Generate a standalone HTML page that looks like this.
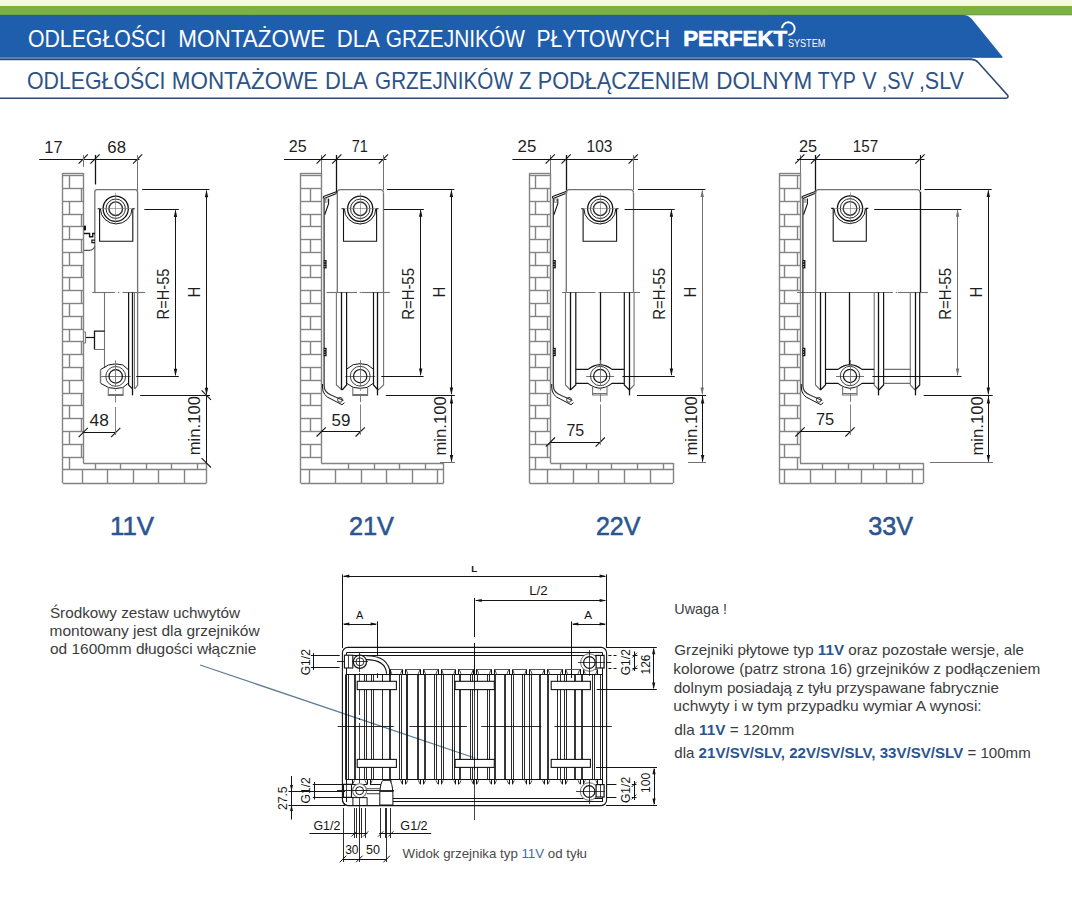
<!DOCTYPE html>
<html><head><meta charset="utf-8"><title>Odległości montażowe</title>
<style>
html,body{margin:0;padding:0;background:#ffffff;}
body{width:1072px;height:898px;overflow:hidden;position:relative;font-family:"Liberation Sans",sans-serif;}
svg{position:absolute;left:0;top:0;display:block;}
svg text{font-family:"Liberation Sans",sans-serif;}
</style></head><body>
<svg width="1072" height="898" viewBox="0 0 1072 898">
<rect x="0" y="0" width="1072" height="6" fill="#f5f9e0"/>
<rect x="0" y="6" width="1072" height="9" fill="#7db142"/>
<rect x="0" y="14.3" width="1072" height="1" fill="#6f9a5a"/>
<defs><linearGradient id="bt" x1="0" y1="0" x2="0" y2="1"><stop offset="0" stop-color="#2b6087"/><stop offset="1" stop-color="#1f5eac"/></linearGradient></defs>
<path d="M0,15 H963 Q968.5,15 972,19.3 L1003.1,57.6 H0 Z" fill="#1f5eac"/>
<rect x="0" y="15" width="964" height="2.6" fill="url(#bt)"/>
<rect x="0" y="56.6" width="1002" height="1.0" fill="#1d5799"/>
<rect x="0" y="57.6" width="972" height="1.2" fill="#6b95cc"/>
<path d="M-2,59.4 H971.5 Q975.5,59.4 978.5,62.7 L1007.6,95.1 Q1009,98.3 1005,98.3 H-2" fill="none" stroke="#2f4b70" stroke-width="1.6"/>
<text x="27.9" y="46.8" font-size="24.2" fill="#ffffff" textLength="138.36" lengthAdjust="spacingAndGlyphs">ODLEGŁOŚCI</text>
<text x="178.36" y="46.8" font-size="24.2" fill="#ffffff" textLength="146.79" lengthAdjust="spacingAndGlyphs">MONTAŻOWE</text>
<text x="336.79" y="46.8" font-size="24.2" fill="#ffffff" textLength="42.96" lengthAdjust="spacingAndGlyphs">DLA</text>
<text x="385.76" y="46.8" font-size="24.2" fill="#ffffff" textLength="139.1" lengthAdjust="spacingAndGlyphs">GRZEJNIKÓW</text>
<text x="536.47" y="46.8" font-size="24.2" fill="#ffffff" textLength="133.55" lengthAdjust="spacingAndGlyphs">PŁYTOWYCH</text>
<text x="26.9" y="88.8" font-size="24.2" fill="#2d5386" textLength="138.66" lengthAdjust="spacingAndGlyphs">ODLEGŁOŚCI</text>
<text x="171.76" y="88.8" font-size="24.2" fill="#2d5386" textLength="146.58" lengthAdjust="spacingAndGlyphs">MONTAŻOWE</text>
<text x="325.1" y="88.8" font-size="24.2" fill="#2d5386" textLength="42.65" lengthAdjust="spacingAndGlyphs">DLA</text>
<text x="375.07" y="88.8" font-size="24.2" fill="#2d5386" textLength="137.89" lengthAdjust="spacingAndGlyphs">GRZEJNIKÓW</text>
<text x="518.97" y="88.8" font-size="24.2" fill="#2d5386" textLength="12.46" lengthAdjust="spacingAndGlyphs">Z</text>
<text x="537.72" y="88.8" font-size="24.2" fill="#2d5386" textLength="171.37" lengthAdjust="spacingAndGlyphs">PODŁĄCZENIEM</text>
<text x="716.16" y="88.8" font-size="24.2" fill="#2d5386" textLength="96.09" lengthAdjust="spacingAndGlyphs">DOLNYM</text>
<text x="817.67" y="88.8" font-size="24.2" fill="#2d5386" textLength="38.15" lengthAdjust="spacingAndGlyphs">TYP</text>
<text x="862.21" y="88.8" font-size="24.2" fill="#2d5386" textLength="14.37" lengthAdjust="spacingAndGlyphs">V</text>
<text x="881.72" y="88.8" font-size="24.2" fill="#2d5386" textLength="32.15" lengthAdjust="spacingAndGlyphs">,SV</text>
<text x="918.89" y="88.8" font-size="24.2" fill="#2d5386" textLength="44.99" lengthAdjust="spacingAndGlyphs">,SLV</text>
<text x="683.13" y="45.7" font-size="22.2" fill="#ffffff" font-weight="bold" textLength="103.99" lengthAdjust="spacingAndGlyphs" stroke="#ffffff" stroke-width="0.7">PERFEKT</text>
<text x="787.89" y="46.7" font-size="11.4" fill="#ffffff" textLength="37.46" lengthAdjust="spacingAndGlyphs">SYSTEM</text>
<path d="M782.1,28.3 A6.3,6.3 0 1 1 788.3,34.9" fill="none" stroke="#ffffff" stroke-width="1.9"/>
<line x1="83.5" y1="173" x2="83.5" y2="463" stroke="#848484" stroke-width="1.4"/>
<line x1="62.7" y1="173.5" x2="83.2" y2="173.5" stroke="#848484" stroke-width="1.4"/>
<line x1="62.5" y1="173" x2="62.5" y2="483" stroke="#848484" stroke-width="1.4"/>
<line x1="62.7" y1="483.5" x2="206.4" y2="483.5" stroke="#848484" stroke-width="1.4"/>
<line x1="206.5" y1="463" x2="206.5" y2="483" stroke="#848484" stroke-width="1.4"/>
<line x1="83.2" y1="463.5" x2="206.4" y2="463.5" stroke="#848484" stroke-width="1.4"/>
<line x1="62.7" y1="175.5" x2="83.2" y2="175.5" stroke="#848484" stroke-width="1.4"/>
<line x1="62.7" y1="188.5" x2="83.2" y2="188.5" stroke="#848484" stroke-width="1.4"/>
<line x1="69.5" y1="175.7" x2="69.5" y2="188.49" stroke="#848484" stroke-width="1.4"/>
<line x1="62.7" y1="201.5" x2="83.2" y2="201.5" stroke="#848484" stroke-width="1.4"/>
<line x1="81.5" y1="188.49" x2="81.5" y2="201.27" stroke="#848484" stroke-width="1.4"/>
<line x1="62.7" y1="214.5" x2="83.2" y2="214.5" stroke="#848484" stroke-width="1.4"/>
<line x1="69.5" y1="201.27" x2="69.5" y2="214.06" stroke="#848484" stroke-width="1.4"/>
<line x1="62.7" y1="226.5" x2="83.2" y2="226.5" stroke="#848484" stroke-width="1.4"/>
<line x1="81.5" y1="214.06" x2="81.5" y2="226.85" stroke="#848484" stroke-width="1.4"/>
<line x1="62.7" y1="239.5" x2="83.2" y2="239.5" stroke="#848484" stroke-width="1.4"/>
<line x1="69.5" y1="226.85" x2="69.5" y2="239.63" stroke="#848484" stroke-width="1.4"/>
<line x1="62.7" y1="252.5" x2="83.2" y2="252.5" stroke="#848484" stroke-width="1.4"/>
<line x1="81.5" y1="239.63" x2="81.5" y2="252.42" stroke="#848484" stroke-width="1.4"/>
<line x1="62.7" y1="265.5" x2="83.2" y2="265.5" stroke="#848484" stroke-width="1.4"/>
<line x1="69.5" y1="252.42" x2="69.5" y2="265.21" stroke="#848484" stroke-width="1.4"/>
<line x1="62.7" y1="277.5" x2="83.2" y2="277.5" stroke="#848484" stroke-width="1.4"/>
<line x1="81.5" y1="265.21" x2="81.5" y2="278" stroke="#848484" stroke-width="1.4"/>
<line x1="62.7" y1="290.5" x2="83.2" y2="290.5" stroke="#848484" stroke-width="1.4"/>
<line x1="69.5" y1="278" x2="69.5" y2="290.78" stroke="#848484" stroke-width="1.4"/>
<line x1="62.7" y1="303.5" x2="83.2" y2="303.5" stroke="#848484" stroke-width="1.4"/>
<line x1="81.5" y1="290.78" x2="81.5" y2="303.57" stroke="#848484" stroke-width="1.4"/>
<line x1="62.7" y1="316.5" x2="83.2" y2="316.5" stroke="#848484" stroke-width="1.4"/>
<line x1="69.5" y1="303.57" x2="69.5" y2="316.36" stroke="#848484" stroke-width="1.4"/>
<line x1="62.7" y1="329.5" x2="83.2" y2="329.5" stroke="#848484" stroke-width="1.4"/>
<line x1="81.5" y1="316.36" x2="81.5" y2="329.14" stroke="#848484" stroke-width="1.4"/>
<line x1="62.7" y1="341.5" x2="83.2" y2="341.5" stroke="#848484" stroke-width="1.4"/>
<line x1="69.5" y1="329.14" x2="69.5" y2="341.93" stroke="#848484" stroke-width="1.4"/>
<line x1="62.7" y1="354.5" x2="83.2" y2="354.5" stroke="#848484" stroke-width="1.4"/>
<line x1="81.5" y1="341.93" x2="81.5" y2="354.72" stroke="#848484" stroke-width="1.4"/>
<line x1="62.7" y1="367.5" x2="83.2" y2="367.5" stroke="#848484" stroke-width="1.4"/>
<line x1="69.5" y1="354.72" x2="69.5" y2="367.5" stroke="#848484" stroke-width="1.4"/>
<line x1="62.7" y1="380.5" x2="83.2" y2="380.5" stroke="#848484" stroke-width="1.4"/>
<line x1="81.5" y1="367.5" x2="81.5" y2="380.29" stroke="#848484" stroke-width="1.4"/>
<line x1="62.7" y1="393.5" x2="83.2" y2="393.5" stroke="#848484" stroke-width="1.4"/>
<line x1="69.5" y1="380.29" x2="69.5" y2="393.08" stroke="#848484" stroke-width="1.4"/>
<line x1="62.7" y1="405.5" x2="83.2" y2="405.5" stroke="#848484" stroke-width="1.4"/>
<line x1="81.5" y1="393.08" x2="81.5" y2="405.87" stroke="#848484" stroke-width="1.4"/>
<line x1="62.7" y1="418.5" x2="83.2" y2="418.5" stroke="#848484" stroke-width="1.4"/>
<line x1="69.5" y1="405.87" x2="69.5" y2="418.65" stroke="#848484" stroke-width="1.4"/>
<line x1="62.7" y1="431.5" x2="83.2" y2="431.5" stroke="#848484" stroke-width="1.4"/>
<line x1="81.5" y1="418.65" x2="81.5" y2="431.44" stroke="#848484" stroke-width="1.4"/>
<line x1="62.7" y1="444.5" x2="83.2" y2="444.5" stroke="#848484" stroke-width="1.4"/>
<line x1="69.5" y1="431.44" x2="69.5" y2="444.23" stroke="#848484" stroke-width="1.4"/>
<line x1="62.7" y1="457.5" x2="83.2" y2="457.5" stroke="#848484" stroke-width="1.4"/>
<line x1="81.5" y1="444.23" x2="81.5" y2="457.01" stroke="#848484" stroke-width="1.4"/>
<line x1="69.5" y1="457.01" x2="69.5" y2="469.8" stroke="#848484" stroke-width="1.4"/>
<line x1="62.7" y1="469.5" x2="206.4" y2="469.5" stroke="#848484" stroke-width="1.4"/>
<line x1="95.5" y1="463" x2="95.5" y2="469.8" stroke="#848484" stroke-width="1.4"/>
<line x1="120.5" y1="463" x2="120.5" y2="469.8" stroke="#848484" stroke-width="1.4"/>
<line x1="146.5" y1="463" x2="146.5" y2="469.8" stroke="#848484" stroke-width="1.4"/>
<line x1="171.5" y1="463" x2="171.5" y2="469.8" stroke="#848484" stroke-width="1.4"/>
<line x1="197.5" y1="463" x2="197.5" y2="469.8" stroke="#848484" stroke-width="1.4"/>
<line x1="82.5" y1="469.8" x2="82.5" y2="483" stroke="#848484" stroke-width="1.4"/>
<line x1="107.5" y1="469.8" x2="107.5" y2="483" stroke="#848484" stroke-width="1.4"/>
<line x1="133.5" y1="469.8" x2="133.5" y2="483" stroke="#848484" stroke-width="1.4"/>
<line x1="158.5" y1="469.8" x2="158.5" y2="483" stroke="#848484" stroke-width="1.4"/>
<line x1="184.5" y1="469.8" x2="184.5" y2="483" stroke="#848484" stroke-width="1.4"/>
<line x1="39.2" y1="159.5" x2="139.5" y2="159.5" stroke="#141414" stroke-width="1"/>
<line x1="78.6" y1="163.6" x2="87.8" y2="154.4" stroke="#141414" stroke-width="1.1"/>
<line x1="90.4" y1="163.6" x2="99.6" y2="154.4" stroke="#141414" stroke-width="1.1"/>
<line x1="133" y1="163.6" x2="142.2" y2="154.4" stroke="#141414" stroke-width="1.1"/>
<line x1="83.5" y1="155" x2="83.5" y2="167" stroke="#727272" stroke-width="1"/>
<line x1="95.5" y1="155" x2="95.5" y2="184.5" stroke="#141414" stroke-width="1.3"/>
<line x1="137.5" y1="155" x2="137.5" y2="191" stroke="#727272" stroke-width="1"/>
<text x="44.36" y="152.8" font-size="16" fill="#1e1e1e" textLength="18.16" lengthAdjust="spacingAndGlyphs">17</text>
<text x="107.37" y="152.8" font-size="16" fill="#1e1e1e" textLength="18.56" lengthAdjust="spacingAndGlyphs">68</text>
<path d="M94.8,292.4 V192 Q94.8,189.7 97,189.7 H135.2 Q137.6,189.7 137.6,192.5 V385.3 L134.5,389" stroke="#727272" stroke-width="1.3" fill="none"/>
<line x1="92.3" y1="292.5" x2="114.7" y2="292.5" stroke="#727272" stroke-width="1.1"/>
<line x1="117.8" y1="292.5" x2="119.2" y2="292.5" stroke="#727272" stroke-width="1.1"/>
<line x1="122.4" y1="292.5" x2="145.1" y2="292.5" stroke="#727272" stroke-width="1.1"/>
<line x1="104.5" y1="292.4" x2="104.5" y2="368" stroke="#727272" stroke-width="1.1"/>
<line x1="134.5" y1="292.4" x2="134.5" y2="389" stroke="#727272" stroke-width="1"/>
<path d="M128.6,292.4 V385 L132.2,388.7" stroke="#141414" stroke-width="1.2" fill="none"/>
<line x1="132.5" y1="292.4" x2="132.5" y2="395.4" stroke="#141414" stroke-width="1.3"/>
<path d="M97.6,208.7 H99.6 V241.3 H132.8 V208.7 H134.8" stroke="#141414" stroke-width="1.1" fill="none"/>
<path d="M100.4,208.7 A15.8,15.2 0 0 0 132,208.7" stroke="#141414" stroke-width="1" fill="none"/>
<circle cx="115.7" cy="208.7" r="12.6" stroke="#141414" stroke-width="1.3" fill="none"/>
<circle cx="115.7" cy="208.7" r="9.7" stroke="#141414" stroke-width="0.9" fill="none"/>
<circle cx="115.7" cy="208.7" r="6.8" stroke="#333" stroke-width="1.4" fill="none"/>
<line x1="115.5" y1="192.7" x2="115.5" y2="224.7" stroke="#727272" stroke-width="0.6"/>
<line x1="99.7" y1="208.5" x2="131.7" y2="208.5" stroke="#727272" stroke-width="0.6"/>
<path d="M100.8,369.4 L108.7,364.9 Q115.7,362.9 122.7,364.9 L128,369.4 M100.8,383.4 L108.7,387.6 Q115.7,389.4 122.7,387.6 L128,383.4" stroke="#141414" stroke-width="1" fill="none"/>
<circle cx="115.7" cy="376.4" r="9.9" stroke="#141414" stroke-width="0.8" fill="none"/>
<circle cx="115.7" cy="376.4" r="6.7" stroke="#141414" stroke-width="1.2" fill="none"/>
<path d="M108.3,386.9 V395.4 H123.1 V386.9" stroke="#727272" stroke-width="1.1" fill="none"/>
<line x1="108.3" y1="394.5" x2="123.1" y2="394.5" stroke="#727272" stroke-width="1"/>
<line x1="100.7" y1="376.5" x2="130.7" y2="376.5" stroke="#141414" stroke-width="0.6"/>
<line x1="115.5" y1="360.4" x2="115.5" y2="402.4" stroke="#727272" stroke-width="0.9" stroke-dasharray="26,3,1.5,3"/>
<line x1="100.5" y1="369.4" x2="100.5" y2="383.4" stroke="#727272" stroke-width="1.4"/>
<rect x="83.8" y="225.4" width="2.2" height="5.2" rx="0.8" fill="#111"/>
<path d="M84,233.5 H89.6 V236.8 H92.7 V233.5 H95" stroke="#141414" stroke-width="1.4" fill="none"/>
<path d="M95,240.2 H91.9 V242.6 H95" stroke="#141414" stroke-width="1.2" fill="none"/>
<path d="M94.8,246.4 Q93.5,250 89.5,250.4 H84" stroke="#555" stroke-width="1.3" fill="none"/>
<line x1="85.5" y1="337.5" x2="94.5" y2="337.5" stroke="#141414" stroke-width="1.2"/>
<path d="M94.5,349.5 V331.2 H104.6" stroke="#141414" stroke-width="1.3" fill="none"/>
<line x1="94.5" y1="349.5" x2="104.4" y2="349.5" stroke="#727272" stroke-width="1"/>
<path d="M83.6,332 H85.6 V343 H83.6" stroke="#727272" stroke-width="1" fill="none"/>
<line x1="142.2" y1="189.5" x2="209.5" y2="189.5" stroke="#141414" stroke-width="1"/>
<line x1="140.2" y1="395.5" x2="210" y2="395.5" stroke="#141414" stroke-width="1.1"/>
<line x1="206.5" y1="190.7" x2="206.5" y2="394.2" stroke="#141414" stroke-width="1"/>
<polygon points="206.5,189.7 204.8,197.2 208.2,197.2" fill="#141414"/>
<polygon points="206.5,395.2 204.8,387.7 208.2,387.7" fill="#141414"/>
<line x1="144.3" y1="209.5" x2="178.8" y2="209.5" stroke="#141414" stroke-width="1"/>
<line x1="136.3" y1="376.5" x2="178.8" y2="376.5" stroke="#141414" stroke-width="1"/>
<line x1="175.5" y1="210.5" x2="175.5" y2="375.2" stroke="#141414" stroke-width="1"/>
<polygon points="175.5,209.5 173.8,217 177.2,217" fill="#141414"/>
<polygon points="175.5,376.2 173.8,368.7 177.2,368.7" fill="#141414"/>
<text transform="translate(169,319.4) rotate(-90)" x="0" y="0" font-size="16" fill="#1e1e1e" textLength="50.79" lengthAdjust="spacingAndGlyphs">R=H-55</text>
<text transform="translate(199.7,297.53) rotate(-90)" x="0" y="0" font-size="16" fill="#1e1e1e" textLength="10.85" lengthAdjust="spacingAndGlyphs">H</text>
<line x1="206.5" y1="395.2" x2="206.5" y2="462.8" stroke="#141414" stroke-width="1"/>
<line x1="201.6" y1="390.4" x2="211" y2="399.8" stroke="#141414" stroke-width="1.1"/>
<line x1="201.6" y1="458.1" x2="211" y2="467.5" stroke="#141414" stroke-width="1.1"/>
<text transform="translate(200.3,455.3) rotate(-90)" x="0" y="0" font-size="16" fill="#1e1e1e" textLength="59.24" lengthAdjust="spacingAndGlyphs">min.100</text>
<line x1="83.2" y1="432.5" x2="115.7" y2="432.5" stroke="#141414" stroke-width="1"/>
<line x1="78.6" y1="437.1" x2="87.8" y2="427.9" stroke="#141414" stroke-width="1.1"/>
<line x1="111.1" y1="437.1" x2="120.3" y2="427.9" stroke="#141414" stroke-width="1.1"/>
<text x="89.52" y="425.8" font-size="16" fill="#1e1e1e" textLength="19.23" lengthAdjust="spacingAndGlyphs">48</text>
<line x1="115.5" y1="407" x2="115.5" y2="435" stroke="#727272" stroke-width="0.9"/>
<line x1="321.5" y1="173" x2="321.5" y2="463" stroke="#848484" stroke-width="1.4"/>
<line x1="300.6" y1="173.5" x2="321.2" y2="173.5" stroke="#848484" stroke-width="1.4"/>
<line x1="300.5" y1="173" x2="300.5" y2="483" stroke="#848484" stroke-width="1.4"/>
<line x1="300.6" y1="483.5" x2="443.7" y2="483.5" stroke="#848484" stroke-width="1.4"/>
<line x1="443.5" y1="463" x2="443.5" y2="483" stroke="#848484" stroke-width="1.4"/>
<line x1="321.2" y1="463.5" x2="443.7" y2="463.5" stroke="#848484" stroke-width="1.4"/>
<line x1="300.6" y1="175.5" x2="321.2" y2="175.5" stroke="#848484" stroke-width="1.4"/>
<line x1="300.6" y1="188.5" x2="321.2" y2="188.5" stroke="#848484" stroke-width="1.4"/>
<line x1="300.6" y1="201.5" x2="321.2" y2="201.5" stroke="#848484" stroke-width="1.4"/>
<line x1="310.5" y1="188.49" x2="310.5" y2="201.27" stroke="#848484" stroke-width="1.4"/>
<line x1="300.6" y1="214.5" x2="321.2" y2="214.5" stroke="#848484" stroke-width="1.4"/>
<line x1="300.6" y1="226.5" x2="321.2" y2="226.5" stroke="#848484" stroke-width="1.4"/>
<line x1="310.5" y1="214.06" x2="310.5" y2="226.85" stroke="#848484" stroke-width="1.4"/>
<line x1="300.6" y1="239.5" x2="321.2" y2="239.5" stroke="#848484" stroke-width="1.4"/>
<line x1="300.6" y1="252.5" x2="321.2" y2="252.5" stroke="#848484" stroke-width="1.4"/>
<line x1="310.5" y1="239.63" x2="310.5" y2="252.42" stroke="#848484" stroke-width="1.4"/>
<line x1="300.6" y1="265.5" x2="321.2" y2="265.5" stroke="#848484" stroke-width="1.4"/>
<line x1="300.6" y1="277.5" x2="321.2" y2="277.5" stroke="#848484" stroke-width="1.4"/>
<line x1="310.5" y1="265.21" x2="310.5" y2="278" stroke="#848484" stroke-width="1.4"/>
<line x1="300.6" y1="290.5" x2="321.2" y2="290.5" stroke="#848484" stroke-width="1.4"/>
<line x1="300.6" y1="303.5" x2="321.2" y2="303.5" stroke="#848484" stroke-width="1.4"/>
<line x1="310.5" y1="290.78" x2="310.5" y2="303.57" stroke="#848484" stroke-width="1.4"/>
<line x1="300.6" y1="316.5" x2="321.2" y2="316.5" stroke="#848484" stroke-width="1.4"/>
<line x1="300.6" y1="329.5" x2="321.2" y2="329.5" stroke="#848484" stroke-width="1.4"/>
<line x1="310.5" y1="316.36" x2="310.5" y2="329.14" stroke="#848484" stroke-width="1.4"/>
<line x1="300.6" y1="341.5" x2="321.2" y2="341.5" stroke="#848484" stroke-width="1.4"/>
<line x1="300.6" y1="354.5" x2="321.2" y2="354.5" stroke="#848484" stroke-width="1.4"/>
<line x1="310.5" y1="341.93" x2="310.5" y2="354.72" stroke="#848484" stroke-width="1.4"/>
<line x1="300.6" y1="367.5" x2="321.2" y2="367.5" stroke="#848484" stroke-width="1.4"/>
<line x1="300.6" y1="380.5" x2="321.2" y2="380.5" stroke="#848484" stroke-width="1.4"/>
<line x1="310.5" y1="367.5" x2="310.5" y2="380.29" stroke="#848484" stroke-width="1.4"/>
<line x1="300.6" y1="393.5" x2="321.2" y2="393.5" stroke="#848484" stroke-width="1.4"/>
<line x1="300.6" y1="405.5" x2="321.2" y2="405.5" stroke="#848484" stroke-width="1.4"/>
<line x1="310.5" y1="393.08" x2="310.5" y2="405.87" stroke="#848484" stroke-width="1.4"/>
<line x1="300.6" y1="418.5" x2="321.2" y2="418.5" stroke="#848484" stroke-width="1.4"/>
<line x1="300.6" y1="431.5" x2="321.2" y2="431.5" stroke="#848484" stroke-width="1.4"/>
<line x1="310.5" y1="418.65" x2="310.5" y2="431.44" stroke="#848484" stroke-width="1.4"/>
<line x1="300.6" y1="444.5" x2="321.2" y2="444.5" stroke="#848484" stroke-width="1.4"/>
<line x1="300.6" y1="457.5" x2="321.2" y2="457.5" stroke="#848484" stroke-width="1.4"/>
<line x1="310.5" y1="444.23" x2="310.5" y2="457.01" stroke="#848484" stroke-width="1.4"/>
<line x1="300.6" y1="469.5" x2="443.7" y2="469.5" stroke="#848484" stroke-width="1.4"/>
<line x1="348.5" y1="463" x2="348.5" y2="469.8" stroke="#848484" stroke-width="1.4"/>
<line x1="374.5" y1="463" x2="374.5" y2="469.8" stroke="#848484" stroke-width="1.4"/>
<line x1="399.5" y1="463" x2="399.5" y2="469.8" stroke="#848484" stroke-width="1.4"/>
<line x1="425.5" y1="463" x2="425.5" y2="469.8" stroke="#848484" stroke-width="1.4"/>
<line x1="309.5" y1="469.8" x2="309.5" y2="483" stroke="#848484" stroke-width="1.4"/>
<line x1="335.5" y1="469.8" x2="335.5" y2="483" stroke="#848484" stroke-width="1.4"/>
<line x1="361.5" y1="469.8" x2="361.5" y2="483" stroke="#848484" stroke-width="1.4"/>
<line x1="386.5" y1="469.8" x2="386.5" y2="483" stroke="#848484" stroke-width="1.4"/>
<line x1="412.5" y1="469.8" x2="412.5" y2="483" stroke="#848484" stroke-width="1.4"/>
<line x1="437.5" y1="469.8" x2="437.5" y2="483" stroke="#848484" stroke-width="1.4"/>
<line x1="321.5" y1="155" x2="321.5" y2="173" stroke="#727272" stroke-width="1"/>
<line x1="284" y1="159.5" x2="386.5" y2="159.5" stroke="#141414" stroke-width="1"/>
<line x1="316.6" y1="163.6" x2="325.8" y2="154.4" stroke="#141414" stroke-width="1.1"/>
<line x1="332.2" y1="163.6" x2="341.4" y2="154.4" stroke="#141414" stroke-width="1.1"/>
<line x1="378.8" y1="163.6" x2="388" y2="154.4" stroke="#141414" stroke-width="1.1"/>
<line x1="336.5" y1="155" x2="336.5" y2="193" stroke="#141414" stroke-width="1.3"/>
<line x1="383.5" y1="155" x2="383.5" y2="190" stroke="#727272" stroke-width="1"/>
<text x="288.8" y="152.4" font-size="16" fill="#1e1e1e" textLength="17.87" lengthAdjust="spacingAndGlyphs">25</text>
<text x="351.76" y="152.4" font-size="16" fill="#1e1e1e" textLength="16.14" lengthAdjust="spacingAndGlyphs">71</text>
<path d="M337.3,292.2 V192.6 Q337.3,189.6 340.3,189.6 H380.4 Q383.4,189.6 383.4,192.6" stroke="#727272" stroke-width="1.3" fill="none"/>
<line x1="383.5" y1="192.6" x2="383.5" y2="292.2" stroke="#727272" stroke-width="1.3"/>
<line x1="326.5" y1="292.5" x2="357" y2="292.5" stroke="#727272" stroke-width="1.1"/>
<line x1="359.8" y1="292.5" x2="361.3" y2="292.5" stroke="#727272" stroke-width="1.1"/>
<line x1="361.5" y1="292.5" x2="389.8" y2="292.5" stroke="#727272" stroke-width="1.1"/>
<path d="M323.4,196.4 L337,191.6 M324,198.4 L336.5,193.4 M323.4,196.3 V198.6" stroke="#141414" stroke-width="1.1" fill="none"/>
<path d="M328.6,198.4 V203.6 L324.7,214.7" stroke="#141414" stroke-width="1.1" fill="none"/>
<rect x="325.3" y="199" width="1.8" height="3.2" stroke="#727272" stroke-width="0.7" fill="none"/>
<path d="M324.1,198.4 V385.7 Q324.1,392.5 332.1,395.5 L343.5,400.5" stroke="#3a3a3a" stroke-width="1.3" fill="none"/>
<path d="M322.5,384 V387 Q322.5,395.8 331.1,399 L342,404.7 L344.5,402.7" stroke="#141414" stroke-width="1" fill="none"/>
<rect x="323.7" y="260" width="2.9" height="8.4" fill="#111"/>
<rect x="324.4" y="261.3" width="1.0" height="0.9" fill="#fff"/>
<rect x="324.4" y="263.8" width="1.0" height="0.9" fill="#fff"/>
<rect x="324.4" y="266.3" width="1.0" height="0.9" fill="#fff"/>
<rect x="323.7" y="347.8" width="2.9" height="8.4" fill="#111"/>
<rect x="324.4" y="349.1" width="1.0" height="0.9" fill="#fff"/>
<rect x="324.4" y="351.6" width="1.0" height="0.9" fill="#fff"/>
<rect x="324.4" y="354.1" width="1.0" height="0.9" fill="#fff"/>
<circle cx="340" cy="399.8" r="2.4" stroke="#141414" stroke-width="0.8" fill="none"/>
<path d="M336.4,292.2 V385 L342.2,390" stroke="#727272" stroke-width="1.1" fill="none"/>
<path d="M346.6,292.2 V385 L342.2,390" stroke="#141414" stroke-width="1.2" fill="none"/>
<line x1="341.5" y1="292.2" x2="341.5" y2="390" stroke="#141414" stroke-width="1.3"/>
<path d="M383.6,292.2 V385 L378,390" stroke="#727272" stroke-width="1.1" fill="none"/>
<path d="M373.5,292.2 V385 L378,390" stroke="#141414" stroke-width="1.2" fill="none"/>
<line x1="377.5" y1="292.2" x2="377.5" y2="395.4" stroke="#141414" stroke-width="1.3"/>
<path d="M341.5,208.8 H343.5 V241.2 H376.6 V208.8 H378.6" stroke="#141414" stroke-width="1.1" fill="none"/>
<path d="M344.3,208.8 A15.75,15.2 0 0 0 375.8,208.8" stroke="#141414" stroke-width="1" fill="none"/>
<circle cx="360.2" cy="208.8" r="12.6" stroke="#141414" stroke-width="1.3" fill="none"/>
<circle cx="360.2" cy="208.8" r="9.7" stroke="#141414" stroke-width="0.9" fill="none"/>
<circle cx="360.2" cy="208.8" r="6.8" stroke="#333" stroke-width="1.4" fill="none"/>
<line x1="360.5" y1="192.8" x2="360.5" y2="224.8" stroke="#727272" stroke-width="0.6"/>
<line x1="344.2" y1="208.5" x2="376.2" y2="208.5" stroke="#727272" stroke-width="0.6"/>
<path d="M346.6,369.2 L353.2,364.7 Q360.2,362.7 367.2,364.7 L373.5,369.2 M346.6,383.2 L353.2,387.4 Q360.2,389.2 367.2,387.4 L373.5,383.2" stroke="#141414" stroke-width="1" fill="none"/>
<circle cx="360.2" cy="376.2" r="9.9" stroke="#141414" stroke-width="0.8" fill="none"/>
<circle cx="360.2" cy="376.2" r="6.7" stroke="#141414" stroke-width="1.2" fill="none"/>
<path d="M352.8,386.7 V395.4 H367.6 V386.7" stroke="#727272" stroke-width="1.1" fill="none"/>
<line x1="352.8" y1="394.5" x2="367.6" y2="394.5" stroke="#727272" stroke-width="1"/>
<line x1="345.2" y1="376.5" x2="375.2" y2="376.5" stroke="#141414" stroke-width="0.6"/>
<line x1="360.5" y1="360.2" x2="360.5" y2="402.2" stroke="#727272" stroke-width="0.9" stroke-dasharray="26,3,1.5,3"/>
<line x1="387" y1="189.5" x2="454.3" y2="189.5" stroke="#141414" stroke-width="1"/>
<line x1="385.8" y1="395.5" x2="454.8" y2="395.5" stroke="#141414" stroke-width="1"/>
<line x1="451.5" y1="190.6" x2="451.5" y2="394.1" stroke="#141414" stroke-width="1"/>
<polygon points="451.4,189.6 449.7,197.1 453.1,197.1" fill="#141414"/>
<polygon points="451.4,395.1 449.7,387.6 453.1,387.6" fill="#141414"/>
<line x1="384" y1="209.5" x2="423.9" y2="209.5" stroke="#141414" stroke-width="1"/>
<line x1="381.3" y1="376.5" x2="423.6" y2="376.5" stroke="#141414" stroke-width="1"/>
<line x1="420.5" y1="210.3" x2="420.5" y2="375" stroke="#141414" stroke-width="1"/>
<polygon points="420.7,209.3 419,216.8 422.4,216.8" fill="#141414"/>
<polygon points="420.7,376 419,368.5 422.4,368.5" fill="#141414"/>
<text transform="translate(414.3,319.82) rotate(-90)" x="0" y="0" font-size="16" fill="#1e1e1e" textLength="51.73" lengthAdjust="spacingAndGlyphs">R=H-55</text>
<text transform="translate(444.9,297.53) rotate(-90)" x="0" y="0" font-size="16" fill="#1e1e1e" textLength="10.85" lengthAdjust="spacingAndGlyphs">H</text>
<line x1="451.5" y1="396" x2="451.5" y2="461.5" stroke="#141414" stroke-width="1"/>
<polygon points="451.5,396 449.8,403.5 453.2,403.5" fill="#141414"/>
<polygon points="451.5,462.5 449.8,455 453.2,455" fill="#141414"/>
<line x1="440" y1="462.5" x2="455" y2="462.5" stroke="#727272" stroke-width="1"/>
<text transform="translate(445.9,455.5) rotate(-90)" x="0" y="0" font-size="16" fill="#1e1e1e" textLength="59.14" lengthAdjust="spacingAndGlyphs">min.100</text>
<line x1="321.2" y1="431.5" x2="360.2" y2="431.5" stroke="#141414" stroke-width="1"/>
<line x1="316.6" y1="436.5" x2="325.8" y2="427.3" stroke="#141414" stroke-width="1.1"/>
<line x1="355.6" y1="436.5" x2="364.8" y2="427.3" stroke="#141414" stroke-width="1.1"/>
<text x="331.62" y="425.9" font-size="16" fill="#1e1e1e" textLength="18.88" lengthAdjust="spacingAndGlyphs">59</text>
<line x1="360.5" y1="399" x2="360.5" y2="434.9" stroke="#727272" stroke-width="0.9" stroke-dasharray="1.5,4,40,0"/>
<line x1="550.5" y1="173" x2="550.5" y2="463" stroke="#848484" stroke-width="1.4"/>
<line x1="529.4" y1="173.5" x2="550.4" y2="173.5" stroke="#848484" stroke-width="1.4"/>
<line x1="529.5" y1="173" x2="529.5" y2="483" stroke="#848484" stroke-width="1.4"/>
<line x1="529.4" y1="483.5" x2="673.2" y2="483.5" stroke="#848484" stroke-width="1.4"/>
<line x1="673.5" y1="463" x2="673.5" y2="483" stroke="#848484" stroke-width="1.4"/>
<line x1="550.4" y1="463.5" x2="673.2" y2="463.5" stroke="#848484" stroke-width="1.4"/>
<line x1="529.4" y1="175.5" x2="550.4" y2="175.5" stroke="#848484" stroke-width="1.4"/>
<line x1="529.4" y1="188.5" x2="550.4" y2="188.5" stroke="#848484" stroke-width="1.4"/>
<line x1="535.5" y1="175.7" x2="535.5" y2="188.49" stroke="#848484" stroke-width="1.4"/>
<line x1="529.4" y1="201.5" x2="550.4" y2="201.5" stroke="#848484" stroke-width="1.4"/>
<line x1="547.5" y1="188.49" x2="547.5" y2="201.27" stroke="#848484" stroke-width="1.4"/>
<line x1="529.4" y1="214.5" x2="550.4" y2="214.5" stroke="#848484" stroke-width="1.4"/>
<line x1="535.5" y1="201.27" x2="535.5" y2="214.06" stroke="#848484" stroke-width="1.4"/>
<line x1="529.4" y1="226.5" x2="550.4" y2="226.5" stroke="#848484" stroke-width="1.4"/>
<line x1="547.5" y1="214.06" x2="547.5" y2="226.85" stroke="#848484" stroke-width="1.4"/>
<line x1="529.4" y1="239.5" x2="550.4" y2="239.5" stroke="#848484" stroke-width="1.4"/>
<line x1="535.5" y1="226.85" x2="535.5" y2="239.63" stroke="#848484" stroke-width="1.4"/>
<line x1="529.4" y1="252.5" x2="550.4" y2="252.5" stroke="#848484" stroke-width="1.4"/>
<line x1="547.5" y1="239.63" x2="547.5" y2="252.42" stroke="#848484" stroke-width="1.4"/>
<line x1="529.4" y1="265.5" x2="550.4" y2="265.5" stroke="#848484" stroke-width="1.4"/>
<line x1="535.5" y1="252.42" x2="535.5" y2="265.21" stroke="#848484" stroke-width="1.4"/>
<line x1="529.4" y1="277.5" x2="550.4" y2="277.5" stroke="#848484" stroke-width="1.4"/>
<line x1="547.5" y1="265.21" x2="547.5" y2="278" stroke="#848484" stroke-width="1.4"/>
<line x1="529.4" y1="290.5" x2="550.4" y2="290.5" stroke="#848484" stroke-width="1.4"/>
<line x1="535.5" y1="278" x2="535.5" y2="290.78" stroke="#848484" stroke-width="1.4"/>
<line x1="529.4" y1="303.5" x2="550.4" y2="303.5" stroke="#848484" stroke-width="1.4"/>
<line x1="547.5" y1="290.78" x2="547.5" y2="303.57" stroke="#848484" stroke-width="1.4"/>
<line x1="529.4" y1="316.5" x2="550.4" y2="316.5" stroke="#848484" stroke-width="1.4"/>
<line x1="535.5" y1="303.57" x2="535.5" y2="316.36" stroke="#848484" stroke-width="1.4"/>
<line x1="529.4" y1="329.5" x2="550.4" y2="329.5" stroke="#848484" stroke-width="1.4"/>
<line x1="547.5" y1="316.36" x2="547.5" y2="329.14" stroke="#848484" stroke-width="1.4"/>
<line x1="529.4" y1="341.5" x2="550.4" y2="341.5" stroke="#848484" stroke-width="1.4"/>
<line x1="535.5" y1="329.14" x2="535.5" y2="341.93" stroke="#848484" stroke-width="1.4"/>
<line x1="529.4" y1="354.5" x2="550.4" y2="354.5" stroke="#848484" stroke-width="1.4"/>
<line x1="547.5" y1="341.93" x2="547.5" y2="354.72" stroke="#848484" stroke-width="1.4"/>
<line x1="529.4" y1="367.5" x2="550.4" y2="367.5" stroke="#848484" stroke-width="1.4"/>
<line x1="535.5" y1="354.72" x2="535.5" y2="367.5" stroke="#848484" stroke-width="1.4"/>
<line x1="529.4" y1="380.5" x2="550.4" y2="380.5" stroke="#848484" stroke-width="1.4"/>
<line x1="547.5" y1="367.5" x2="547.5" y2="380.29" stroke="#848484" stroke-width="1.4"/>
<line x1="529.4" y1="393.5" x2="550.4" y2="393.5" stroke="#848484" stroke-width="1.4"/>
<line x1="535.5" y1="380.29" x2="535.5" y2="393.08" stroke="#848484" stroke-width="1.4"/>
<line x1="529.4" y1="405.5" x2="550.4" y2="405.5" stroke="#848484" stroke-width="1.4"/>
<line x1="547.5" y1="393.08" x2="547.5" y2="405.87" stroke="#848484" stroke-width="1.4"/>
<line x1="529.4" y1="418.5" x2="550.4" y2="418.5" stroke="#848484" stroke-width="1.4"/>
<line x1="535.5" y1="405.87" x2="535.5" y2="418.65" stroke="#848484" stroke-width="1.4"/>
<line x1="529.4" y1="431.5" x2="550.4" y2="431.5" stroke="#848484" stroke-width="1.4"/>
<line x1="547.5" y1="418.65" x2="547.5" y2="431.44" stroke="#848484" stroke-width="1.4"/>
<line x1="529.4" y1="444.5" x2="550.4" y2="444.5" stroke="#848484" stroke-width="1.4"/>
<line x1="535.5" y1="431.44" x2="535.5" y2="444.23" stroke="#848484" stroke-width="1.4"/>
<line x1="529.4" y1="457.5" x2="550.4" y2="457.5" stroke="#848484" stroke-width="1.4"/>
<line x1="547.5" y1="444.23" x2="547.5" y2="457.01" stroke="#848484" stroke-width="1.4"/>
<line x1="535.5" y1="457.01" x2="535.5" y2="469.8" stroke="#848484" stroke-width="1.4"/>
<line x1="529.4" y1="469.5" x2="673.2" y2="469.5" stroke="#848484" stroke-width="1.4"/>
<line x1="560.5" y1="463" x2="560.5" y2="469.8" stroke="#848484" stroke-width="1.4"/>
<line x1="586.5" y1="463" x2="586.5" y2="469.8" stroke="#848484" stroke-width="1.4"/>
<line x1="611.5" y1="463" x2="611.5" y2="469.8" stroke="#848484" stroke-width="1.4"/>
<line x1="637.5" y1="463" x2="637.5" y2="469.8" stroke="#848484" stroke-width="1.4"/>
<line x1="663.5" y1="463" x2="663.5" y2="469.8" stroke="#848484" stroke-width="1.4"/>
<line x1="547.5" y1="469.8" x2="547.5" y2="483" stroke="#848484" stroke-width="1.4"/>
<line x1="573.5" y1="469.8" x2="573.5" y2="483" stroke="#848484" stroke-width="1.4"/>
<line x1="598.5" y1="469.8" x2="598.5" y2="483" stroke="#848484" stroke-width="1.4"/>
<line x1="624.5" y1="469.8" x2="624.5" y2="483" stroke="#848484" stroke-width="1.4"/>
<line x1="650.5" y1="469.8" x2="650.5" y2="483" stroke="#848484" stroke-width="1.4"/>
<line x1="550.5" y1="155" x2="550.5" y2="173" stroke="#727272" stroke-width="1"/>
<line x1="512.4" y1="159.5" x2="638" y2="159.5" stroke="#141414" stroke-width="1"/>
<line x1="545.6" y1="163.6" x2="554.8" y2="154.4" stroke="#141414" stroke-width="1.1"/>
<line x1="561.5" y1="163.6" x2="570.7" y2="154.4" stroke="#141414" stroke-width="1.1"/>
<line x1="628.6" y1="163.6" x2="637.8" y2="154.4" stroke="#141414" stroke-width="1.1"/>
<line x1="566.5" y1="155" x2="566.5" y2="193" stroke="#141414" stroke-width="1.3"/>
<line x1="633.5" y1="155" x2="633.5" y2="190" stroke="#727272" stroke-width="1"/>
<text x="517.56" y="152.4" font-size="16" fill="#1e1e1e" textLength="18.74" lengthAdjust="spacingAndGlyphs">25</text>
<text x="586.62" y="152.4" font-size="16" fill="#1e1e1e" textLength="25.85" lengthAdjust="spacingAndGlyphs">103</text>
<path d="M566.3,292.2 V192.6 Q566.3,189.6 569.3,189.6 H630.4 Q633.4,189.6 633.4,192.6" stroke="#727272" stroke-width="1.3" fill="none"/>
<line x1="633.5" y1="192.6" x2="633.5" y2="292.2" stroke="#727272" stroke-width="1.3"/>
<line x1="562" y1="292.5" x2="595.5" y2="292.5" stroke="#727272" stroke-width="1.1"/>
<line x1="598.3" y1="292.5" x2="599.8" y2="292.5" stroke="#727272" stroke-width="1.1"/>
<line x1="600.5" y1="292.5" x2="640" y2="292.5" stroke="#727272" stroke-width="1.1"/>
<path d="M552.6,196.4 L566,191.6 M553.2,198.4 L565.5,193.4 M552.6,196.3 V198.6" stroke="#141414" stroke-width="1.1" fill="none"/>
<path d="M557.8,198.4 V203.6 L553.9,214.7" stroke="#141414" stroke-width="1.1" fill="none"/>
<rect x="554.5" y="199" width="1.8" height="3.2" stroke="#727272" stroke-width="0.7" fill="none"/>
<path d="M553.3,198.4 V385.7 Q553.3,392.5 561.3,395.5 L572.5,400.5" stroke="#3a3a3a" stroke-width="1.3" fill="none"/>
<path d="M551.7,384 V387 Q551.7,395.8 560.3,399 L571,404.7 L573.5,402.7" stroke="#141414" stroke-width="1" fill="none"/>
<rect x="552.9" y="260" width="2.9" height="8.4" fill="#111"/>
<rect x="553.6" y="261.3" width="1.0" height="0.9" fill="#fff"/>
<rect x="553.6" y="263.8" width="1.0" height="0.9" fill="#fff"/>
<rect x="553.6" y="266.3" width="1.0" height="0.9" fill="#fff"/>
<rect x="552.9" y="347.8" width="2.9" height="8.4" fill="#111"/>
<rect x="553.6" y="349.1" width="1.0" height="0.9" fill="#fff"/>
<rect x="553.6" y="351.6" width="1.0" height="0.9" fill="#fff"/>
<rect x="553.6" y="354.1" width="1.0" height="0.9" fill="#fff"/>
<circle cx="569" cy="399.8" r="2.4" stroke="#141414" stroke-width="0.8" fill="none"/>
<path d="M565.5,292.2 V385 L570.4,390" stroke="#727272" stroke-width="1.1" fill="none"/>
<path d="M575.8,292.2 V385 L570.4,390" stroke="#141414" stroke-width="1.2" fill="none"/>
<line x1="570.5" y1="292.2" x2="570.5" y2="390" stroke="#141414" stroke-width="1.3"/>
<path d="M634.1,292.2 V385 L629.4,390" stroke="#727272" stroke-width="1.1" fill="none"/>
<path d="M624.3,292.2 V385 L629.4,390" stroke="#141414" stroke-width="1.2" fill="none"/>
<line x1="629.5" y1="292.2" x2="629.5" y2="395.4" stroke="#141414" stroke-width="1.3"/>
<line x1="600.5" y1="292.2" x2="600.5" y2="364.5" stroke="#141414" stroke-width="1.3"/>
<path d="M575.8,369.4 H588 Q594,364.8 600,364.6 Q606,364.8 612,369.4 H624.3 M575.8,383.4 H588 Q594,388 600,388.2 Q606,388 612,383.4 H624.3" stroke="#141414" stroke-width="1.1" fill="none"/>
<path d="M581.1,208.8 H583.1 V241.2 H616.6 V208.8 H618.6" stroke="#141414" stroke-width="1.1" fill="none"/>
<path d="M583.9,208.8 A15.95,15.2 0 0 0 615.8,208.8" stroke="#141414" stroke-width="1" fill="none"/>
<circle cx="600.2" cy="208.8" r="12.6" stroke="#141414" stroke-width="1.3" fill="none"/>
<circle cx="600.2" cy="208.8" r="9.7" stroke="#141414" stroke-width="0.9" fill="none"/>
<circle cx="600.2" cy="208.8" r="6.8" stroke="#333" stroke-width="1.4" fill="none"/>
<line x1="600.5" y1="192.8" x2="600.5" y2="224.8" stroke="#727272" stroke-width="0.6"/>
<line x1="584.2" y1="208.5" x2="616.2" y2="208.5" stroke="#727272" stroke-width="0.6"/>
<circle cx="600.2" cy="376" r="9.7" stroke="#141414" stroke-width="0.8" fill="none"/>
<circle cx="600.2" cy="376" r="6.6" stroke="#141414" stroke-width="1.2" fill="none"/>
<line x1="586.2" y1="376.5" x2="614.2" y2="376.5" stroke="#141414" stroke-width="0.6"/>
<line x1="600.5" y1="360" x2="600.5" y2="402" stroke="#727272" stroke-width="0.9" stroke-dasharray="26,3,1.5,3"/>
<path d="M592.6,386 V395 H607 V386" stroke="#727272" stroke-width="1.1" fill="none"/>
<line x1="592.6" y1="393.5" x2="607" y2="393.5" stroke="#727272" stroke-width="1"/>
<line x1="637.9" y1="189.5" x2="705.4" y2="189.5" stroke="#141414" stroke-width="1"/>
<line x1="636.9" y1="395.5" x2="706" y2="395.5" stroke="#141414" stroke-width="1"/>
<line x1="702.5" y1="190.6" x2="702.5" y2="394.1" stroke="#727272" stroke-width="1"/>
<polygon points="702.2,189.6 700.5,197.1 703.9,197.1" fill="#727272"/>
<polygon points="702.2,395.1 700.5,387.6 703.9,387.6" fill="#727272"/>
<line x1="624.6" y1="209.5" x2="674.7" y2="209.5" stroke="#141414" stroke-width="1"/>
<line x1="622.4" y1="376.5" x2="674.8" y2="376.5" stroke="#141414" stroke-width="1"/>
<line x1="671.5" y1="210.3" x2="671.5" y2="375" stroke="#141414" stroke-width="1"/>
<polygon points="671.4,209.3 669.7,216.8 673.1,216.8" fill="#141414"/>
<polygon points="671.4,376 669.7,368.5 673.1,368.5" fill="#141414"/>
<text transform="translate(665,319.82) rotate(-90)" x="0" y="0" font-size="16" fill="#1e1e1e" textLength="51.73" lengthAdjust="spacingAndGlyphs">R=H-55</text>
<text transform="translate(695.7,297.53) rotate(-90)" x="0" y="0" font-size="16" fill="#1e1e1e" textLength="10.85" lengthAdjust="spacingAndGlyphs">H</text>
<line x1="702.5" y1="396" x2="702.5" y2="461.5" stroke="#141414" stroke-width="1"/>
<polygon points="702.6,396 700.9,403.5 704.3,403.5" fill="#141414"/>
<polygon points="702.6,462.5 700.9,455 704.3,455" fill="#141414"/>
<line x1="688" y1="462.5" x2="706" y2="462.5" stroke="#727272" stroke-width="1"/>
<text transform="translate(697.1,455.5) rotate(-90)" x="0" y="0" font-size="16" fill="#1e1e1e" textLength="59.14" lengthAdjust="spacingAndGlyphs">min.100</text>
<line x1="550.4" y1="442.5" x2="600.2" y2="442.5" stroke="#141414" stroke-width="1"/>
<line x1="545.8" y1="446.7" x2="555" y2="437.5" stroke="#141414" stroke-width="1.1"/>
<line x1="595.6" y1="446.7" x2="604.8" y2="437.5" stroke="#141414" stroke-width="1.1"/>
<text x="566.38" y="435.9" font-size="16" fill="#1e1e1e" textLength="17.78" lengthAdjust="spacingAndGlyphs">75</text>
<line x1="600.5" y1="399" x2="600.5" y2="445.1" stroke="#727272" stroke-width="0.9" stroke-dasharray="1.5,4,40,0"/>
<line x1="800.5" y1="173" x2="800.5" y2="463" stroke="#848484" stroke-width="1.4"/>
<line x1="779.3" y1="173.5" x2="800" y2="173.5" stroke="#848484" stroke-width="1.4"/>
<line x1="779.5" y1="173" x2="779.5" y2="483" stroke="#848484" stroke-width="1.4"/>
<line x1="779.3" y1="483.5" x2="923.2" y2="483.5" stroke="#848484" stroke-width="1.4"/>
<line x1="923.5" y1="463" x2="923.5" y2="483" stroke="#848484" stroke-width="1.4"/>
<line x1="800" y1="463.5" x2="923.2" y2="463.5" stroke="#848484" stroke-width="1.4"/>
<line x1="779.3" y1="175.5" x2="800" y2="175.5" stroke="#848484" stroke-width="1.4"/>
<line x1="779.3" y1="188.5" x2="800" y2="188.5" stroke="#848484" stroke-width="1.4"/>
<line x1="797.5" y1="175.7" x2="797.5" y2="188.49" stroke="#848484" stroke-width="1.4"/>
<line x1="779.3" y1="201.5" x2="800" y2="201.5" stroke="#848484" stroke-width="1.4"/>
<line x1="784.5" y1="188.49" x2="784.5" y2="201.27" stroke="#848484" stroke-width="1.4"/>
<line x1="779.3" y1="214.5" x2="800" y2="214.5" stroke="#848484" stroke-width="1.4"/>
<line x1="797.5" y1="201.27" x2="797.5" y2="214.06" stroke="#848484" stroke-width="1.4"/>
<line x1="779.3" y1="226.5" x2="800" y2="226.5" stroke="#848484" stroke-width="1.4"/>
<line x1="784.5" y1="214.06" x2="784.5" y2="226.85" stroke="#848484" stroke-width="1.4"/>
<line x1="779.3" y1="239.5" x2="800" y2="239.5" stroke="#848484" stroke-width="1.4"/>
<line x1="797.5" y1="226.85" x2="797.5" y2="239.63" stroke="#848484" stroke-width="1.4"/>
<line x1="779.3" y1="252.5" x2="800" y2="252.5" stroke="#848484" stroke-width="1.4"/>
<line x1="784.5" y1="239.63" x2="784.5" y2="252.42" stroke="#848484" stroke-width="1.4"/>
<line x1="779.3" y1="265.5" x2="800" y2="265.5" stroke="#848484" stroke-width="1.4"/>
<line x1="797.5" y1="252.42" x2="797.5" y2="265.21" stroke="#848484" stroke-width="1.4"/>
<line x1="779.3" y1="277.5" x2="800" y2="277.5" stroke="#848484" stroke-width="1.4"/>
<line x1="784.5" y1="265.21" x2="784.5" y2="278" stroke="#848484" stroke-width="1.4"/>
<line x1="779.3" y1="290.5" x2="800" y2="290.5" stroke="#848484" stroke-width="1.4"/>
<line x1="797.5" y1="278" x2="797.5" y2="290.78" stroke="#848484" stroke-width="1.4"/>
<line x1="779.3" y1="303.5" x2="800" y2="303.5" stroke="#848484" stroke-width="1.4"/>
<line x1="784.5" y1="290.78" x2="784.5" y2="303.57" stroke="#848484" stroke-width="1.4"/>
<line x1="779.3" y1="316.5" x2="800" y2="316.5" stroke="#848484" stroke-width="1.4"/>
<line x1="797.5" y1="303.57" x2="797.5" y2="316.36" stroke="#848484" stroke-width="1.4"/>
<line x1="779.3" y1="329.5" x2="800" y2="329.5" stroke="#848484" stroke-width="1.4"/>
<line x1="784.5" y1="316.36" x2="784.5" y2="329.14" stroke="#848484" stroke-width="1.4"/>
<line x1="779.3" y1="341.5" x2="800" y2="341.5" stroke="#848484" stroke-width="1.4"/>
<line x1="797.5" y1="329.14" x2="797.5" y2="341.93" stroke="#848484" stroke-width="1.4"/>
<line x1="779.3" y1="354.5" x2="800" y2="354.5" stroke="#848484" stroke-width="1.4"/>
<line x1="784.5" y1="341.93" x2="784.5" y2="354.72" stroke="#848484" stroke-width="1.4"/>
<line x1="779.3" y1="367.5" x2="800" y2="367.5" stroke="#848484" stroke-width="1.4"/>
<line x1="797.5" y1="354.72" x2="797.5" y2="367.5" stroke="#848484" stroke-width="1.4"/>
<line x1="779.3" y1="380.5" x2="800" y2="380.5" stroke="#848484" stroke-width="1.4"/>
<line x1="784.5" y1="367.5" x2="784.5" y2="380.29" stroke="#848484" stroke-width="1.4"/>
<line x1="779.3" y1="393.5" x2="800" y2="393.5" stroke="#848484" stroke-width="1.4"/>
<line x1="797.5" y1="380.29" x2="797.5" y2="393.08" stroke="#848484" stroke-width="1.4"/>
<line x1="779.3" y1="405.5" x2="800" y2="405.5" stroke="#848484" stroke-width="1.4"/>
<line x1="784.5" y1="393.08" x2="784.5" y2="405.87" stroke="#848484" stroke-width="1.4"/>
<line x1="779.3" y1="418.5" x2="800" y2="418.5" stroke="#848484" stroke-width="1.4"/>
<line x1="797.5" y1="405.87" x2="797.5" y2="418.65" stroke="#848484" stroke-width="1.4"/>
<line x1="779.3" y1="431.5" x2="800" y2="431.5" stroke="#848484" stroke-width="1.4"/>
<line x1="784.5" y1="418.65" x2="784.5" y2="431.44" stroke="#848484" stroke-width="1.4"/>
<line x1="779.3" y1="444.5" x2="800" y2="444.5" stroke="#848484" stroke-width="1.4"/>
<line x1="797.5" y1="431.44" x2="797.5" y2="444.23" stroke="#848484" stroke-width="1.4"/>
<line x1="779.3" y1="457.5" x2="800" y2="457.5" stroke="#848484" stroke-width="1.4"/>
<line x1="784.5" y1="444.23" x2="784.5" y2="457.01" stroke="#848484" stroke-width="1.4"/>
<line x1="797.5" y1="457.01" x2="797.5" y2="469.8" stroke="#848484" stroke-width="1.4"/>
<line x1="779.3" y1="469.5" x2="923.2" y2="469.5" stroke="#848484" stroke-width="1.4"/>
<line x1="822.5" y1="463" x2="822.5" y2="469.8" stroke="#848484" stroke-width="1.4"/>
<line x1="848.5" y1="463" x2="848.5" y2="469.8" stroke="#848484" stroke-width="1.4"/>
<line x1="873.5" y1="463" x2="873.5" y2="469.8" stroke="#848484" stroke-width="1.4"/>
<line x1="899.5" y1="463" x2="899.5" y2="469.8" stroke="#848484" stroke-width="1.4"/>
<line x1="784.5" y1="469.8" x2="784.5" y2="483" stroke="#848484" stroke-width="1.4"/>
<line x1="810.5" y1="469.8" x2="810.5" y2="483" stroke="#848484" stroke-width="1.4"/>
<line x1="835.5" y1="469.8" x2="835.5" y2="483" stroke="#848484" stroke-width="1.4"/>
<line x1="861.5" y1="469.8" x2="861.5" y2="483" stroke="#848484" stroke-width="1.4"/>
<line x1="886.5" y1="469.8" x2="886.5" y2="483" stroke="#848484" stroke-width="1.4"/>
<line x1="912.5" y1="469.8" x2="912.5" y2="483" stroke="#848484" stroke-width="1.4"/>
<line x1="800.5" y1="155" x2="800.5" y2="173" stroke="#727272" stroke-width="1"/>
<line x1="797" y1="159.5" x2="924.5" y2="159.5" stroke="#141414" stroke-width="1"/>
<line x1="795.2" y1="163.6" x2="804.4" y2="154.4" stroke="#141414" stroke-width="1.1"/>
<line x1="810.9" y1="163.6" x2="820.1" y2="154.4" stroke="#141414" stroke-width="1.1"/>
<line x1="915.4" y1="163.6" x2="924.6" y2="154.4" stroke="#141414" stroke-width="1.1"/>
<line x1="815.5" y1="155" x2="815.5" y2="193" stroke="#141414" stroke-width="1.3"/>
<line x1="920.5" y1="155" x2="920.5" y2="190" stroke="#141414" stroke-width="1.1"/>
<text x="798.99" y="152.4" font-size="16" fill="#1e1e1e" textLength="18.08" lengthAdjust="spacingAndGlyphs">25</text>
<text x="852.84" y="152.4" font-size="16" fill="#1e1e1e" textLength="25.43" lengthAdjust="spacingAndGlyphs">157</text>
<path d="M815.6,292.2 V192.6 Q815.6,189.6 818.6,189.6 H917 Q920,189.6 920,192.6" stroke="#727272" stroke-width="1.3" fill="none"/>
<line x1="920.5" y1="192.6" x2="920.5" y2="292.2" stroke="#727272" stroke-width="1.3"/>
<line x1="797" y1="292.5" x2="893" y2="292.5" stroke="#727272" stroke-width="1.1"/>
<line x1="895.8" y1="292.5" x2="897.3" y2="292.5" stroke="#727272" stroke-width="1.1"/>
<line x1="898" y1="292.5" x2="928" y2="292.5" stroke="#727272" stroke-width="1.1"/>
<line x1="920.5" y1="192" x2="920.5" y2="292" stroke="#141414" stroke-width="1.2"/>
<path d="M802.2,196.4 L815.3,191.6 M802.8,198.4 L814.8,193.4 M802.2,196.3 V198.6" stroke="#141414" stroke-width="1.1" fill="none"/>
<path d="M807.4,198.4 V203.6 L803.5,214.7" stroke="#141414" stroke-width="1.1" fill="none"/>
<rect x="804.1" y="199" width="1.8" height="3.2" stroke="#727272" stroke-width="0.7" fill="none"/>
<path d="M802.9,198.4 V385.7 Q802.9,392.5 810.9,395.5 L822.3,400.5" stroke="#3a3a3a" stroke-width="1.3" fill="none"/>
<path d="M801.3,384 V387 Q801.3,395.8 809.9,399 L820.8,404.7 L823.3,402.7" stroke="#141414" stroke-width="1" fill="none"/>
<rect x="802.5" y="260" width="2.9" height="8.4" fill="#111"/>
<rect x="803.2" y="261.3" width="1.0" height="0.9" fill="#fff"/>
<rect x="803.2" y="263.8" width="1.0" height="0.9" fill="#fff"/>
<rect x="803.2" y="266.3" width="1.0" height="0.9" fill="#fff"/>
<rect x="802.5" y="347.8" width="2.9" height="8.4" fill="#111"/>
<rect x="803.2" y="349.1" width="1.0" height="0.9" fill="#fff"/>
<rect x="803.2" y="351.6" width="1.0" height="0.9" fill="#fff"/>
<rect x="803.2" y="354.1" width="1.0" height="0.9" fill="#fff"/>
<circle cx="818.8" cy="399.8" r="2.4" stroke="#141414" stroke-width="0.8" fill="none"/>
<path d="M815.5,292.2 V385 L820.4,390" stroke="#727272" stroke-width="1.1" fill="none"/>
<path d="M825.5,292.2 V385 L820.4,390" stroke="#141414" stroke-width="1.2" fill="none"/>
<line x1="820.5" y1="292.2" x2="820.5" y2="390" stroke="#141414" stroke-width="1.3"/>
<path d="M874.2,292.2 V385 L878.9,390" stroke="#727272" stroke-width="1.1" fill="none"/>
<path d="M883.6,292.2 V385 L878.9,390" stroke="#141414" stroke-width="1.2" fill="none"/>
<line x1="878.5" y1="292.2" x2="878.5" y2="395.4" stroke="#141414" stroke-width="1.3"/>
<path d="M910.3,292.2 V385 L915,390" stroke="#727272" stroke-width="1.1" fill="none"/>
<path d="M919.7,292.2 V385 L915,390" stroke="#141414" stroke-width="1.2" fill="none"/>
<line x1="915.5" y1="292.2" x2="915.5" y2="395.4" stroke="#141414" stroke-width="1.3"/>
<line x1="849.5" y1="292.2" x2="849.5" y2="364.5" stroke="#141414" stroke-width="1.3"/>
<path d="M825.5,369.4 H838 Q844,364.8 850,364.6 Q856,364.8 862,369.4 H874.2 M825.5,383.4 H838 Q844,388 850,388.2 Q856,388 862,383.4 H874.2" stroke="#141414" stroke-width="1.1" fill="none"/>
<path d="M883.6,369.4 H910.3 M883.6,383.4 H910.3" stroke="#727272" stroke-width="1.1" fill="none"/>
<path d="M831.2,208.4 H833.2 V241.3 H866.3 V208.4 H868.3" stroke="#141414" stroke-width="1.1" fill="none"/>
<path d="M834,208.4 A15.75,15.2 0 0 0 865.5,208.4" stroke="#141414" stroke-width="1" fill="none"/>
<circle cx="850" cy="208.4" r="12.6" stroke="#141414" stroke-width="1.3" fill="none"/>
<circle cx="850" cy="208.4" r="9.7" stroke="#141414" stroke-width="0.9" fill="none"/>
<circle cx="850" cy="208.4" r="6.8" stroke="#333" stroke-width="1.4" fill="none"/>
<line x1="850.5" y1="192.4" x2="850.5" y2="224.4" stroke="#727272" stroke-width="0.6"/>
<line x1="834" y1="208.5" x2="866" y2="208.5" stroke="#727272" stroke-width="0.6"/>
<circle cx="850" cy="376" r="9.7" stroke="#141414" stroke-width="0.8" fill="none"/>
<circle cx="850" cy="376" r="6.6" stroke="#141414" stroke-width="1.2" fill="none"/>
<line x1="836" y1="376.5" x2="864" y2="376.5" stroke="#141414" stroke-width="0.6"/>
<line x1="850.5" y1="360" x2="850.5" y2="402" stroke="#727272" stroke-width="0.9" stroke-dasharray="26,3,1.5,3"/>
<path d="M842.6,386 V395 H857 V386" stroke="#727272" stroke-width="1.1" fill="none"/>
<line x1="842.6" y1="393.5" x2="857" y2="393.5" stroke="#727272" stroke-width="1"/>
<line x1="924.5" y1="189.5" x2="991.7" y2="189.5" stroke="#141414" stroke-width="1"/>
<line x1="923.7" y1="395.5" x2="992.7" y2="395.5" stroke="#141414" stroke-width="1"/>
<line x1="988.5" y1="190.6" x2="988.5" y2="394.1" stroke="#141414" stroke-width="1"/>
<polygon points="988.3,189.6 986.6,197.1 990,197.1" fill="#141414"/>
<polygon points="988.3,395.1 986.6,387.6 990,387.6" fill="#141414"/>
<line x1="874.2" y1="209.5" x2="961.5" y2="209.5" stroke="#141414" stroke-width="1"/>
<line x1="872.4" y1="376.5" x2="961.5" y2="376.5" stroke="#141414" stroke-width="1"/>
<line x1="957.5" y1="210.3" x2="957.5" y2="375" stroke="#727272" stroke-width="1"/>
<polygon points="957.6,209.3 955.9,216.8 959.3,216.8" fill="#727272"/>
<polygon points="957.6,376 955.9,368.5 959.3,368.5" fill="#727272"/>
<text transform="translate(951.2,319.82) rotate(-90)" x="0" y="0" font-size="16" fill="#1e1e1e" textLength="51.73" lengthAdjust="spacingAndGlyphs">R=H-55</text>
<text transform="translate(981.8,297.53) rotate(-90)" x="0" y="0" font-size="16" fill="#1e1e1e" textLength="10.85" lengthAdjust="spacingAndGlyphs">H</text>
<line x1="988.5" y1="396" x2="988.5" y2="461.5" stroke="#141414" stroke-width="1"/>
<polygon points="988.4,396 986.7,403.5 990.1,403.5" fill="#141414"/>
<polygon points="988.4,462.5 986.7,455 990.1,455" fill="#141414"/>
<line x1="930" y1="462.5" x2="993" y2="462.5" stroke="#727272" stroke-width="1"/>
<text transform="translate(983.4,455.5) rotate(-90)" x="0" y="0" font-size="16" fill="#1e1e1e" textLength="59.14" lengthAdjust="spacingAndGlyphs">min.100</text>
<line x1="800" y1="431.5" x2="850" y2="431.5" stroke="#141414" stroke-width="1"/>
<line x1="795.4" y1="436.5" x2="804.6" y2="427.3" stroke="#141414" stroke-width="1.1"/>
<line x1="845.4" y1="436.5" x2="854.6" y2="427.3" stroke="#141414" stroke-width="1.1"/>
<text x="815.96" y="425.4" font-size="16" fill="#1e1e1e" textLength="18.21" lengthAdjust="spacingAndGlyphs">75</text>
<line x1="850.5" y1="399" x2="850.5" y2="434.9" stroke="#727272" stroke-width="0.9" stroke-dasharray="1.5,4,40,0"/>
<text stroke="#2b5590" stroke-width="0.55" x="110.04" y="535" font-size="25.8" fill="#2b5590" textLength="44.07" lengthAdjust="spacingAndGlyphs">11V</text>
<text stroke="#2b5590" stroke-width="0.55" x="348.93" y="535" font-size="25.8" fill="#2b5590" textLength="45.08" lengthAdjust="spacingAndGlyphs">21V</text>
<text stroke="#2b5590" stroke-width="0.55" x="595.95" y="535" font-size="25.8" fill="#2b5590" textLength="44.56" lengthAdjust="spacingAndGlyphs">22V</text>
<text stroke="#2b5590" stroke-width="0.55" x="868.24" y="535" font-size="25.8" fill="#2b5590" textLength="44.87" lengthAdjust="spacingAndGlyphs">33V</text>
<text x="49.91" y="618" font-size="14.6" fill="#3c3c3c" textLength="190.15" lengthAdjust="spacingAndGlyphs">Środkowy zestaw uchwytów</text>
<text x="49.58" y="636" font-size="14.6" fill="#3c3c3c" textLength="209.98" lengthAdjust="spacingAndGlyphs">montowany jest dla grzejników</text>
<text x="49.95" y="654" font-size="14.6" fill="#3c3c3c" textLength="206.34" lengthAdjust="spacingAndGlyphs">od 1600mm długości włącznie</text>
<line x1="200.1" y1="665" x2="473.4" y2="757.5" stroke="#5b7b93" stroke-width="1.2"/>
<text x="674.3" y="614.3" font-size="14.4" fill="#3c3c3c">Uwaga !</text>
<text x="674.3" y="655.3" font-size="14.4" fill="#3c3c3c" textLength="349.7" lengthAdjust="spacingAndGlyphs">Grzejniki płytowe typ <tspan fill="#2b5590" font-weight="bold">11V</tspan> oraz pozostałe wersje, ale</text>
<text x="673.27" y="674" font-size="14.4" fill="#3c3c3c" textLength="367.04" lengthAdjust="spacingAndGlyphs">kolorowe (patrz strona 16) grzejników z podłączeniem</text>
<text x="673.66" y="692.6" font-size="14.4" fill="#3c3c3c" textLength="325.31" lengthAdjust="spacingAndGlyphs">dolnym posiadają z tyłu przyspawane fabrycznie</text>
<text x="673.3" y="711.3" font-size="14.4" fill="#3c3c3c" textLength="308.41" lengthAdjust="spacingAndGlyphs">uchwyty i w tym przypadku wymiar A wynosi:</text>
<text x="674.3" y="734.8" font-size="14.4" fill="#3c3c3c" textLength="120" lengthAdjust="spacingAndGlyphs">dla <tspan fill="#2b5590" font-weight="bold">11V</tspan> = 120mm</text>
<text x="674.3" y="757.9" font-size="14.4" fill="#3c3c3c" textLength="356.4" lengthAdjust="spacingAndGlyphs">dla <tspan fill="#2b5590" font-weight="bold">21V/SV/SLV, 22V/SV/SLV, 33V/SV/SLV</tspan> = 100mm</text>
<line x1="342.5" y1="574.4" x2="342.5" y2="648" stroke="#141414" stroke-width="1"/>
<line x1="606.5" y1="574.4" x2="606.5" y2="648" stroke="#141414" stroke-width="1"/>
<line x1="344" y1="576.5" x2="605" y2="576.5" stroke="#141414" stroke-width="1"/>
<polygon points="342.3,576.2 349.3,574.6 349.3,577.8" fill="#141414"/>
<polygon points="606.6,576.2 599.6,574.6 599.6,577.8" fill="#141414"/>
<text x="471.36" y="572.1" font-size="8.6" fill="#141414" textLength="5.93" lengthAdjust="spacingAndGlyphs" font-weight="bold">L</text>
<line x1="474.5" y1="597.9" x2="474.5" y2="637" stroke="#141414" stroke-width="1"/>
<line x1="474.5" y1="643" x2="474.5" y2="686" stroke="#141414" stroke-width="1"/>
<line x1="476" y1="600.5" x2="605" y2="600.5" stroke="#141414" stroke-width="1"/>
<polygon points="474.7,600.5 481.7,598.9 481.7,602.1" fill="#141414"/>
<polygon points="606.6,600.5 599.6,598.9 599.6,602.1" fill="#141414"/>
<text x="529.21" y="595.3" font-size="12.6" fill="#141414" textLength="18.45" lengthAdjust="spacingAndGlyphs">L/2</text>
<line x1="344" y1="624.5" x2="376" y2="624.5" stroke="#141414" stroke-width="1"/>
<polygon points="342.3,624 349.3,622.4 349.3,625.6" fill="#141414"/>
<polygon points="377.6,624 370.6,622.4 370.6,625.6" fill="#141414"/>
<line x1="377.5" y1="621.4" x2="377.5" y2="678" stroke="#141414" stroke-width="1"/>
<text x="355.88" y="618.8" font-size="11.4" fill="#141414" textLength="7.34" lengthAdjust="spacingAndGlyphs">A</text>
<line x1="573" y1="624.5" x2="605" y2="624.5" stroke="#141414" stroke-width="1"/>
<polygon points="571.4,624 578.4,622.4 578.4,625.6" fill="#141414"/>
<polygon points="606.6,624 599.6,622.4 599.6,625.6" fill="#141414"/>
<line x1="571.5" y1="621.4" x2="571.5" y2="678" stroke="#141414" stroke-width="1"/>
<text x="584.38" y="618.8" font-size="11.4" fill="#141414" textLength="7.85" lengthAdjust="spacingAndGlyphs">A</text>
<rect x="342.4" y="647.4" width="264.2" height="158.2" stroke="#141414" stroke-width="1.1" fill="none" rx="5.5"/>
<line x1="346.5" y1="652.5" x2="602.5" y2="652.5" stroke="#141414" stroke-width="1.1"/>
<line x1="346.5" y1="655.5" x2="602.5" y2="655.5" stroke="#141414" stroke-width="1"/>
<line x1="346.5" y1="652.6" x2="346.5" y2="802" stroke="#141414" stroke-width="1"/>
<line x1="602.5" y1="652.6" x2="602.5" y2="802" stroke="#141414" stroke-width="1"/>
<line x1="393" y1="798.5" x2="602.5" y2="798.5" stroke="#141414" stroke-width="1"/>
<line x1="393" y1="801.5" x2="602.5" y2="801.5" stroke="#141414" stroke-width="1"/>
<line x1="346.5" y1="674.5" x2="602.5" y2="674.5" stroke="#141414" stroke-width="1.1"/>
<line x1="346.5" y1="779.5" x2="602.5" y2="779.5" stroke="#141414" stroke-width="1.1"/>
<line x1="352.5" y1="779.8" x2="352.5" y2="784.4" stroke="#141414" stroke-width="1"/>
<line x1="367.5" y1="779.8" x2="367.5" y2="784.4" stroke="#141414" stroke-width="1"/>
<path d="M352.85,783.9 L354.45,780.4 M366.7,783.9 L365.1,780.4" stroke="#141414" stroke-width="0.8" fill="none"/>
<line x1="352.35" y1="784.5" x2="367.2" y2="784.5" stroke="#141414" stroke-width="1"/>
<line x1="370.5" y1="779.8" x2="370.5" y2="784.4" stroke="#141414" stroke-width="1"/>
<line x1="384.5" y1="779.8" x2="384.5" y2="784.4" stroke="#141414" stroke-width="1"/>
<path d="M370.6,783.9 L372.2,780.4 M384.45,783.9 L382.85,780.4" stroke="#141414" stroke-width="0.8" fill="none"/>
<line x1="370.1" y1="784.5" x2="384.95" y2="784.5" stroke="#141414" stroke-width="1"/>
<line x1="389.5" y1="669.1" x2="389.5" y2="674.4" stroke="#141414" stroke-width="1"/>
<line x1="402.5" y1="669.1" x2="402.5" y2="674.4" stroke="#141414" stroke-width="1"/>
<path d="M390.1,669.6 L391.7,673.8 M402.2,669.6 L400.6,673.8" stroke="#141414" stroke-width="0.8" fill="none"/>
<line x1="389.5" y1="779.8" x2="389.5" y2="784.4" stroke="#141414" stroke-width="1"/>
<line x1="402.5" y1="779.8" x2="402.5" y2="784.4" stroke="#141414" stroke-width="1"/>
<path d="M390.1,783.9 L391.7,780.4 M402.2,783.9 L400.6,780.4" stroke="#141414" stroke-width="0.8" fill="none"/>
<line x1="389.6" y1="669.5" x2="402.7" y2="669.5" stroke="#555" stroke-width="1"/>
<line x1="405.5" y1="669.1" x2="405.5" y2="674.4" stroke="#141414" stroke-width="1"/>
<line x1="420.5" y1="669.1" x2="420.5" y2="674.4" stroke="#141414" stroke-width="1"/>
<path d="M406.1,669.6 L407.7,673.8 M419.95,669.6 L418.35,673.8" stroke="#141414" stroke-width="0.8" fill="none"/>
<line x1="405.5" y1="779.8" x2="405.5" y2="784.4" stroke="#141414" stroke-width="1"/>
<line x1="420.5" y1="779.8" x2="420.5" y2="784.4" stroke="#141414" stroke-width="1"/>
<path d="M406.1,783.9 L407.7,780.4 M419.95,783.9 L418.35,780.4" stroke="#141414" stroke-width="0.8" fill="none"/>
<line x1="405.6" y1="669.5" x2="420.45" y2="669.5" stroke="#555" stroke-width="1"/>
<line x1="423.5" y1="669.1" x2="423.5" y2="674.4" stroke="#141414" stroke-width="1"/>
<line x1="438.5" y1="669.1" x2="438.5" y2="674.4" stroke="#141414" stroke-width="1"/>
<path d="M423.85,669.6 L425.45,673.8 M437.7,669.6 L436.1,673.8" stroke="#141414" stroke-width="0.8" fill="none"/>
<line x1="423.5" y1="779.8" x2="423.5" y2="784.4" stroke="#141414" stroke-width="1"/>
<line x1="438.5" y1="779.8" x2="438.5" y2="784.4" stroke="#141414" stroke-width="1"/>
<path d="M423.85,783.9 L425.45,780.4 M437.7,783.9 L436.1,780.4" stroke="#141414" stroke-width="0.8" fill="none"/>
<line x1="423.35" y1="669.5" x2="438.2" y2="669.5" stroke="#555" stroke-width="1"/>
<line x1="441.5" y1="669.1" x2="441.5" y2="674.4" stroke="#141414" stroke-width="1"/>
<line x1="455.5" y1="669.1" x2="455.5" y2="674.4" stroke="#141414" stroke-width="1"/>
<path d="M441.6,669.6 L443.2,673.8 M455.45,669.6 L453.85,673.8" stroke="#141414" stroke-width="0.8" fill="none"/>
<line x1="441.5" y1="779.8" x2="441.5" y2="784.4" stroke="#141414" stroke-width="1"/>
<line x1="455.5" y1="779.8" x2="455.5" y2="784.4" stroke="#141414" stroke-width="1"/>
<path d="M441.6,783.9 L443.2,780.4 M455.45,783.9 L453.85,780.4" stroke="#141414" stroke-width="0.8" fill="none"/>
<line x1="441.1" y1="669.5" x2="455.95" y2="669.5" stroke="#555" stroke-width="1"/>
<line x1="458.5" y1="669.1" x2="458.5" y2="674.4" stroke="#141414" stroke-width="1"/>
<line x1="473.5" y1="669.1" x2="473.5" y2="674.4" stroke="#141414" stroke-width="1"/>
<path d="M459.35,669.6 L460.95,673.8 M473.2,669.6 L471.6,673.8" stroke="#141414" stroke-width="0.8" fill="none"/>
<line x1="458.5" y1="779.8" x2="458.5" y2="784.4" stroke="#141414" stroke-width="1"/>
<line x1="473.5" y1="779.8" x2="473.5" y2="784.4" stroke="#141414" stroke-width="1"/>
<path d="M459.35,783.9 L460.95,780.4 M473.2,783.9 L471.6,780.4" stroke="#141414" stroke-width="0.8" fill="none"/>
<line x1="458.85" y1="669.5" x2="473.7" y2="669.5" stroke="#555" stroke-width="1"/>
<line x1="476.5" y1="669.1" x2="476.5" y2="674.4" stroke="#141414" stroke-width="1"/>
<line x1="491.5" y1="669.1" x2="491.5" y2="674.4" stroke="#141414" stroke-width="1"/>
<path d="M477.1,669.6 L478.7,673.8 M490.95,669.6 L489.35,673.8" stroke="#141414" stroke-width="0.8" fill="none"/>
<line x1="476.5" y1="779.8" x2="476.5" y2="784.4" stroke="#141414" stroke-width="1"/>
<line x1="491.5" y1="779.8" x2="491.5" y2="784.4" stroke="#141414" stroke-width="1"/>
<path d="M477.1,783.9 L478.7,780.4 M490.95,783.9 L489.35,780.4" stroke="#141414" stroke-width="0.8" fill="none"/>
<line x1="476.6" y1="669.5" x2="491.45" y2="669.5" stroke="#555" stroke-width="1"/>
<line x1="494.5" y1="669.1" x2="494.5" y2="674.4" stroke="#141414" stroke-width="1"/>
<line x1="509.5" y1="669.1" x2="509.5" y2="674.4" stroke="#141414" stroke-width="1"/>
<path d="M494.85,669.6 L496.45,673.8 M508.7,669.6 L507.1,673.8" stroke="#141414" stroke-width="0.8" fill="none"/>
<line x1="494.5" y1="779.8" x2="494.5" y2="784.4" stroke="#141414" stroke-width="1"/>
<line x1="509.5" y1="779.8" x2="509.5" y2="784.4" stroke="#141414" stroke-width="1"/>
<path d="M494.85,783.9 L496.45,780.4 M508.7,783.9 L507.1,780.4" stroke="#141414" stroke-width="0.8" fill="none"/>
<line x1="494.35" y1="669.5" x2="509.2" y2="669.5" stroke="#555" stroke-width="1"/>
<line x1="512.5" y1="669.1" x2="512.5" y2="674.4" stroke="#141414" stroke-width="1"/>
<line x1="526.5" y1="669.1" x2="526.5" y2="674.4" stroke="#141414" stroke-width="1"/>
<path d="M512.6,669.6 L514.2,673.8 M526.45,669.6 L524.85,673.8" stroke="#141414" stroke-width="0.8" fill="none"/>
<line x1="512.5" y1="779.8" x2="512.5" y2="784.4" stroke="#141414" stroke-width="1"/>
<line x1="526.5" y1="779.8" x2="526.5" y2="784.4" stroke="#141414" stroke-width="1"/>
<path d="M512.6,783.9 L514.2,780.4 M526.45,783.9 L524.85,780.4" stroke="#141414" stroke-width="0.8" fill="none"/>
<line x1="512.1" y1="669.5" x2="526.95" y2="669.5" stroke="#555" stroke-width="1"/>
<line x1="529.5" y1="669.1" x2="529.5" y2="674.4" stroke="#141414" stroke-width="1"/>
<line x1="544.5" y1="669.1" x2="544.5" y2="674.4" stroke="#141414" stroke-width="1"/>
<path d="M530.35,669.6 L531.95,673.8 M544.2,669.6 L542.6,673.8" stroke="#141414" stroke-width="0.8" fill="none"/>
<line x1="529.5" y1="779.8" x2="529.5" y2="784.4" stroke="#141414" stroke-width="1"/>
<line x1="544.5" y1="779.8" x2="544.5" y2="784.4" stroke="#141414" stroke-width="1"/>
<path d="M530.35,783.9 L531.95,780.4 M544.2,783.9 L542.6,780.4" stroke="#141414" stroke-width="0.8" fill="none"/>
<line x1="529.85" y1="669.5" x2="544.7" y2="669.5" stroke="#555" stroke-width="1"/>
<line x1="547.5" y1="669.1" x2="547.5" y2="674.4" stroke="#141414" stroke-width="1"/>
<line x1="562.5" y1="669.1" x2="562.5" y2="674.4" stroke="#141414" stroke-width="1"/>
<path d="M548.1,669.6 L549.7,673.8 M561.95,669.6 L560.35,673.8" stroke="#141414" stroke-width="0.8" fill="none"/>
<line x1="547.5" y1="779.8" x2="547.5" y2="784.4" stroke="#141414" stroke-width="1"/>
<line x1="562.5" y1="779.8" x2="562.5" y2="784.4" stroke="#141414" stroke-width="1"/>
<path d="M548.1,783.9 L549.7,780.4 M561.95,783.9 L560.35,780.4" stroke="#141414" stroke-width="0.8" fill="none"/>
<line x1="547.6" y1="669.5" x2="562.45" y2="669.5" stroke="#555" stroke-width="1"/>
<line x1="565.5" y1="669.1" x2="565.5" y2="674.4" stroke="#141414" stroke-width="1"/>
<line x1="580.5" y1="669.1" x2="580.5" y2="674.4" stroke="#141414" stroke-width="1"/>
<path d="M565.85,669.6 L567.45,673.8 M579.7,669.6 L578.1,673.8" stroke="#141414" stroke-width="0.8" fill="none"/>
<line x1="565.5" y1="779.8" x2="565.5" y2="784.4" stroke="#141414" stroke-width="1"/>
<line x1="580.5" y1="779.8" x2="580.5" y2="784.4" stroke="#141414" stroke-width="1"/>
<path d="M565.85,783.9 L567.45,780.4 M579.7,783.9 L578.1,780.4" stroke="#141414" stroke-width="0.8" fill="none"/>
<line x1="565.35" y1="669.5" x2="580.2" y2="669.5" stroke="#555" stroke-width="1"/>
<line x1="583.5" y1="669.1" x2="583.5" y2="674.4" stroke="#141414" stroke-width="1"/>
<line x1="597.5" y1="669.1" x2="597.5" y2="674.4" stroke="#141414" stroke-width="1"/>
<path d="M583.6,669.6 L585.2,673.8 M597.45,669.6 L595.85,673.8" stroke="#141414" stroke-width="0.8" fill="none"/>
<line x1="583.5" y1="779.8" x2="583.5" y2="784.4" stroke="#141414" stroke-width="1"/>
<line x1="597.5" y1="779.8" x2="597.5" y2="784.4" stroke="#141414" stroke-width="1"/>
<path d="M583.6,783.9 L585.2,780.4 M597.45,783.9 L595.85,780.4" stroke="#141414" stroke-width="0.8" fill="none"/>
<line x1="583.1" y1="669.5" x2="597.95" y2="669.5" stroke="#555" stroke-width="1"/>
<line x1="355" y1="674.4" x2="355" y2="779.8" stroke="#141414" stroke-width="1.7"/>
<line x1="390" y1="669.4" x2="390" y2="784.2" stroke="#141414" stroke-width="1.7"/>
<line x1="418" y1="674.4" x2="418" y2="779.8" stroke="#141414" stroke-width="1.7"/>
<line x1="425" y1="674.4" x2="425" y2="779.8" stroke="#141414" stroke-width="1.7"/>
<line x1="460" y1="674.4" x2="460" y2="779.8" stroke="#141414" stroke-width="1.7"/>
<line x1="495" y1="674.4" x2="495" y2="779.8" stroke="#141414" stroke-width="1.7"/>
<line x1="505" y1="674.4" x2="505" y2="779.8" stroke="#141414" stroke-width="1.7"/>
<line x1="540" y1="674.4" x2="540" y2="779.8" stroke="#141414" stroke-width="1.7"/>
<line x1="548" y1="674.4" x2="548" y2="779.8" stroke="#141414" stroke-width="1.7"/>
<line x1="575" y1="674.4" x2="575" y2="779.8" stroke="#141414" stroke-width="1.7"/>
<line x1="582" y1="674.4" x2="582" y2="779.8" stroke="#141414" stroke-width="1.7"/>
<line x1="345.5" y1="674.4" x2="345.5" y2="779.8" stroke="#141414" stroke-width="0.9"/>
<line x1="348.5" y1="674.4" x2="348.5" y2="779.8" stroke="#141414" stroke-width="0.9"/>
<line x1="364.5" y1="674.4" x2="364.5" y2="779.8" stroke="#141414" stroke-width="0.9"/>
<line x1="366.5" y1="674.4" x2="366.5" y2="779.8" stroke="#141414" stroke-width="0.9"/>
<line x1="371.5" y1="674.4" x2="371.5" y2="779.8" stroke="#141414" stroke-width="0.9"/>
<line x1="373.5" y1="674.4" x2="373.5" y2="779.8" stroke="#141414" stroke-width="0.9"/>
<line x1="382.5" y1="674.4" x2="382.5" y2="779.8" stroke="#141414" stroke-width="0.9"/>
<line x1="399.5" y1="674.4" x2="399.5" y2="779.8" stroke="#141414" stroke-width="0.9"/>
<line x1="401.5" y1="674.4" x2="401.5" y2="779.8" stroke="#141414" stroke-width="0.9"/>
<line x1="406.5" y1="674.4" x2="406.5" y2="779.8" stroke="#141414" stroke-width="0.9"/>
<line x1="407.5" y1="674.4" x2="407.5" y2="779.8" stroke="#141414" stroke-width="0.9"/>
<line x1="434.5" y1="674.4" x2="434.5" y2="779.8" stroke="#141414" stroke-width="0.9"/>
<line x1="436.5" y1="674.4" x2="436.5" y2="779.8" stroke="#141414" stroke-width="0.9"/>
<line x1="441.5" y1="674.4" x2="441.5" y2="779.8" stroke="#141414" stroke-width="0.9"/>
<line x1="443.5" y1="674.4" x2="443.5" y2="779.8" stroke="#141414" stroke-width="0.9"/>
<line x1="452.5" y1="674.4" x2="452.5" y2="779.8" stroke="#141414" stroke-width="0.9"/>
<line x1="454.5" y1="674.4" x2="454.5" y2="779.8" stroke="#141414" stroke-width="0.9"/>
<line x1="470.5" y1="674.4" x2="470.5" y2="779.8" stroke="#141414" stroke-width="0.9"/>
<line x1="472.5" y1="674.4" x2="472.5" y2="779.8" stroke="#141414" stroke-width="0.9"/>
<line x1="477.5" y1="674.4" x2="477.5" y2="779.8" stroke="#141414" stroke-width="0.9"/>
<line x1="487.5" y1="674.4" x2="487.5" y2="779.8" stroke="#141414" stroke-width="0.9"/>
<line x1="489.5" y1="674.4" x2="489.5" y2="779.8" stroke="#141414" stroke-width="0.9"/>
<line x1="511.5" y1="674.4" x2="511.5" y2="779.8" stroke="#141414" stroke-width="0.9"/>
<line x1="513.5" y1="674.4" x2="513.5" y2="779.8" stroke="#141414" stroke-width="0.9"/>
<line x1="522.5" y1="674.4" x2="522.5" y2="779.8" stroke="#141414" stroke-width="0.9"/>
<line x1="524.5" y1="674.4" x2="524.5" y2="779.8" stroke="#141414" stroke-width="0.9"/>
<line x1="529.5" y1="674.4" x2="529.5" y2="779.8" stroke="#141414" stroke-width="0.9"/>
<line x1="531.5" y1="674.4" x2="531.5" y2="779.8" stroke="#141414" stroke-width="0.9"/>
<line x1="557.5" y1="674.4" x2="557.5" y2="779.8" stroke="#141414" stroke-width="0.9"/>
<line x1="560.5" y1="674.4" x2="560.5" y2="779.8" stroke="#141414" stroke-width="0.9"/>
<line x1="564.5" y1="674.4" x2="564.5" y2="779.8" stroke="#141414" stroke-width="0.9"/>
<line x1="566.5" y1="674.4" x2="566.5" y2="779.8" stroke="#141414" stroke-width="0.9"/>
<line x1="592.5" y1="674.4" x2="592.5" y2="779.8" stroke="#141414" stroke-width="0.9"/>
<line x1="594.5" y1="674.4" x2="594.5" y2="779.8" stroke="#141414" stroke-width="0.9"/>
<line x1="600.5" y1="674.4" x2="600.5" y2="779.8" stroke="#141414" stroke-width="0.9"/>
<line x1="337.6" y1="726.5" x2="393.8" y2="726.5" stroke="#141414" stroke-width="0.9"/>
<line x1="409.4" y1="726.5" x2="466.9" y2="726.5" stroke="#141414" stroke-width="0.9"/>
<line x1="481.3" y1="726.5" x2="541.3" y2="726.5" stroke="#141414" stroke-width="0.9"/>
<line x1="554.4" y1="726.5" x2="611.8" y2="726.5" stroke="#141414" stroke-width="0.9"/>
<line x1="359.5" y1="655" x2="359.5" y2="835" stroke="#141414" stroke-width="0.8" stroke-dasharray="60,3,2,3"/>
<line x1="474.5" y1="686" x2="474.5" y2="820" stroke="#141414" stroke-width="0.8"/>
<line x1="474.5" y1="656" x2="474.5" y2="686" stroke="#141414" stroke-width="0.8"/>
<rect x="357.2" y="681.3" width="39.2" height="8.3" stroke="#141414" stroke-width="1.1" fill="#ffffff"/>
<rect x="357.2" y="759.4" width="39.2" height="8" stroke="#141414" stroke-width="1.1" fill="#ffffff"/>
<rect x="455.1" y="681.3" width="39.2" height="8.3" stroke="#141414" stroke-width="1.1" fill="#ffffff"/>
<rect x="455.1" y="759.4" width="39.2" height="8" stroke="#141414" stroke-width="1.1" fill="#ffffff"/>
<rect x="551.2" y="681.3" width="39.2" height="8.3" stroke="#141414" stroke-width="1.1" fill="#ffffff"/>
<rect x="551.2" y="759.4" width="39.2" height="8" stroke="#141414" stroke-width="1.1" fill="#ffffff"/>
<line x1="474.5" y1="679" x2="474.5" y2="692" stroke="#141414" stroke-width="0.9"/>
<line x1="474.5" y1="757" x2="474.5" y2="770" stroke="#141414" stroke-width="0.9"/>
<rect x="347" y="656.2" width="40" height="17" fill="#ffffff"/>
<rect x="344.4" y="655.2" width="8.4" height="12.8" stroke="#141414" stroke-width="1.1" fill="#ffffff"/>
<line x1="348.5" y1="655.2" x2="348.5" y2="668" stroke="#141414" stroke-width="0.8"/>
<path d="M366,655.8 Q389,655.8 390.2,673.8 M366,659.6 Q385.8,659.6 386.6,673.8" stroke="#141414" stroke-width="1.1" fill="none"/>
<circle cx="359.9" cy="661.8" r="6.6" stroke="#141414" stroke-width="1.2" fill="#ffffff"/>
<circle cx="359.9" cy="661.8" r="4" stroke="#141414" stroke-width="0.9" fill="none"/>
<line x1="352" y1="661.5" x2="368" y2="661.5" stroke="#141414" stroke-width="0.8"/>
<line x1="359.5" y1="652" x2="359.5" y2="672" stroke="#141414" stroke-width="0.8"/>
<circle cx="589.4" cy="662.5" r="8.8" stroke="#727272" stroke-width="1" fill="#ffffff"/>
<circle cx="589.4" cy="662.5" r="5.8" stroke="#141414" stroke-width="1.2" fill="none"/>
<rect x="596.1" y="655.4" width="8" height="12.6" stroke="#141414" stroke-width="1.2" fill="#ffffff"/>
<line x1="600.5" y1="655.4" x2="600.5" y2="668" stroke="#141414" stroke-width="0.8"/>
<line x1="578" y1="662.5" x2="605" y2="662.5" stroke="#141414" stroke-width="0.8"/>
<line x1="589.5" y1="650" x2="589.5" y2="676" stroke="#141414" stroke-width="0.8"/>
<circle cx="589.1" cy="791.5" r="8.8" stroke="#727272" stroke-width="1" fill="#ffffff"/>
<circle cx="589.1" cy="791.5" r="5.8" stroke="#141414" stroke-width="1.2" fill="none"/>
<rect x="596.1" y="784.6" width="8" height="12.4" stroke="#141414" stroke-width="1.2" fill="#ffffff"/>
<line x1="600.5" y1="784.6" x2="600.5" y2="797" stroke="#141414" stroke-width="0.8"/>
<line x1="576" y1="791.5" x2="605" y2="791.5" stroke="#141414" stroke-width="0.8"/>
<line x1="589.5" y1="780" x2="589.5" y2="804" stroke="#141414" stroke-width="0.8"/>
<rect x="347" y="785" width="6.5" height="13" fill="#ffffff"/>
<rect x="343.5" y="784.3" width="8" height="13" stroke="#141414" stroke-width="1.1" fill="#ffffff"/>
<line x1="346.5" y1="784.3" x2="346.5" y2="797.3" stroke="#141414" stroke-width="0.8"/>
<line x1="343.9" y1="784.5" x2="353.7" y2="784.5" stroke="#141414" stroke-width="1"/>
<line x1="343.9" y1="797.5" x2="353.7" y2="797.5" stroke="#141414" stroke-width="1"/>
<path d="M367,788.9 H379.8 M367,793.7 H379.8" stroke="#141414" stroke-width="1" fill="none"/>
<rect x="367.5" y="789.4" width="12" height="3.8" fill="#ffffff"/>
<circle cx="359.6" cy="790.7" r="7" stroke="#777" stroke-width="1.1" fill="#ffffff"/>
<circle cx="359.6" cy="790.7" r="4" stroke="#141414" stroke-width="1" fill="none"/>
<line x1="337" y1="790.5" x2="393.7" y2="790.5" stroke="#141414" stroke-width="0.9"/>
<path d="M379.8,805 V793 Q380.5,782 383,780.3 H389.5 Q392.2,782 392.9,793 V805 Z" stroke="#141414" stroke-width="1" fill="#ffffff"/>
<line x1="379.8" y1="791" x2="393.6" y2="791" stroke="#141414" stroke-width="1.8"/>
<path d="M352.9,805 V797.6 H367.1 V805" stroke="#141414" stroke-width="1" fill="none"/>
<path d="M342.4,798 Q342.4,803.5 346.5,805" stroke="#141414" stroke-width="1" fill="none"/>
<line x1="606.6" y1="647.5" x2="656.8" y2="647.5" stroke="#141414" stroke-width="1"/>
<line x1="596.7" y1="689.5" x2="656.8" y2="689.5" stroke="#141414" stroke-width="1"/>
<line x1="653.5" y1="649" x2="653.5" y2="688" stroke="#141414" stroke-width="1"/>
<polygon points="653.7,647.3 652.1,654.3 655.3,654.3" fill="#141414"/>
<polygon points="653.7,689.4 652.1,682.4 655.3,682.4" fill="#141414"/>
<text transform="translate(650.2,674.4) rotate(-90)" x="0" y="0" font-size="12.8" fill="#141414" textLength="19.82" lengthAdjust="spacingAndGlyphs">126</text>
<line x1="596" y1="767.5" x2="657" y2="767.5" stroke="#141414" stroke-width="1"/>
<line x1="606" y1="805.5" x2="657" y2="805.5" stroke="#141414" stroke-width="1"/>
<line x1="654.5" y1="769" x2="654.5" y2="804" stroke="#141414" stroke-width="1"/>
<polygon points="654,767.3 652.4,774.3 655.6,774.3" fill="#141414"/>
<polygon points="654,805.5 652.4,798.5 655.6,798.5" fill="#141414"/>
<text transform="translate(650.4,793.02) rotate(-90)" x="0" y="0" font-size="12.8" fill="#141414" textLength="20.18" lengthAdjust="spacingAndGlyphs">100</text>
<line x1="608.4" y1="655.5" x2="611.5" y2="655.5" stroke="#141414" stroke-width="1"/>
<line x1="613.5" y1="655.5" x2="616.5" y2="655.5" stroke="#141414" stroke-width="1"/>
<line x1="608.4" y1="668.5" x2="611.5" y2="668.5" stroke="#141414" stroke-width="1"/>
<line x1="613.5" y1="668.5" x2="616.5" y2="668.5" stroke="#141414" stroke-width="1"/>
<line x1="606" y1="662.5" x2="611.4" y2="662.5" stroke="#141414" stroke-width="0.9"/>
<line x1="632.5" y1="655.5" x2="637.5" y2="655.5" stroke="#141414" stroke-width="1"/>
<line x1="632.5" y1="668.5" x2="637.5" y2="668.5" stroke="#141414" stroke-width="1"/>
<line x1="634.5" y1="651.4" x2="634.5" y2="671" stroke="#141414" stroke-width="1"/>
<line x1="632.3" y1="657.5" x2="637.1" y2="652.7" stroke="#141414" stroke-width="0.9"/>
<line x1="632.3" y1="670.4" x2="637.1" y2="665.6" stroke="#141414" stroke-width="0.9"/>
<text transform="translate(630.4,675.3) rotate(-90)" x="0" y="0" font-size="12.8" fill="#141414" textLength="26.21" lengthAdjust="spacingAndGlyphs">G1/2</text>
<line x1="606.7" y1="784.5" x2="616.4" y2="784.5" stroke="#141414" stroke-width="1"/>
<line x1="606.7" y1="797.5" x2="616.4" y2="797.5" stroke="#141414" stroke-width="1"/>
<line x1="631.8" y1="784.5" x2="636.5" y2="784.5" stroke="#141414" stroke-width="1"/>
<line x1="631.8" y1="797.5" x2="636.5" y2="797.5" stroke="#141414" stroke-width="1"/>
<line x1="634.5" y1="781" x2="634.5" y2="800" stroke="#141414" stroke-width="1"/>
<line x1="631.6" y1="787" x2="636.4" y2="782.2" stroke="#141414" stroke-width="0.9"/>
<line x1="631.6" y1="799.4" x2="636.4" y2="794.6" stroke="#141414" stroke-width="0.9"/>
<text transform="translate(630.4,803.1) rotate(-90)" x="0" y="0" font-size="12.8" fill="#141414" textLength="26.21" lengthAdjust="spacingAndGlyphs">G1/2</text>
<line x1="310.8" y1="655.5" x2="339.7" y2="655.5" stroke="#141414" stroke-width="1"/>
<line x1="310.8" y1="667.5" x2="339.7" y2="667.5" stroke="#141414" stroke-width="1"/>
<line x1="313.5" y1="653" x2="313.5" y2="670" stroke="#141414" stroke-width="1"/>
<line x1="337" y1="661.5" x2="345" y2="661.5" stroke="#141414" stroke-width="0.9"/>
<text transform="translate(309.9,675.3) rotate(-90)" x="0" y="0" font-size="12.8" fill="#141414" textLength="26.21" lengthAdjust="spacingAndGlyphs">G1/2</text>
<line x1="312.8" y1="784.5" x2="343.9" y2="784.5" stroke="#141414" stroke-width="1"/>
<line x1="312.8" y1="797.5" x2="343.9" y2="797.5" stroke="#141414" stroke-width="1"/>
<line x1="314.5" y1="782" x2="314.5" y2="799.5" stroke="#141414" stroke-width="1"/>
<text transform="translate(310.3,803.4) rotate(-90)" x="0" y="0" font-size="12.8" fill="#141414" textLength="26.21" lengthAdjust="spacingAndGlyphs">G1/2</text>
<line x1="288.5" y1="805.5" x2="345" y2="805.5" stroke="#141414" stroke-width="1"/>
<line x1="288.5" y1="791.5" x2="345" y2="791.5" stroke="#141414" stroke-width="1"/>
<line x1="291.5" y1="776" x2="291.5" y2="819.6" stroke="#141414" stroke-width="1"/>
<polygon points="291.5,791 290,785 293,785" fill="#141414"/>
<polygon points="291.5,805 290,811 293,811" fill="#141414"/>
<text transform="translate(286.9,810.11) rotate(-90)" x="0" y="0" font-size="12.8" fill="#141414" textLength="23.71" lengthAdjust="spacingAndGlyphs">27.5</text>
<line x1="343.5" y1="808" x2="343.5" y2="862" stroke="#141414" stroke-width="0.9"/>
<line x1="354.5" y1="808" x2="354.5" y2="838" stroke="#141414" stroke-width="0.9"/>
<line x1="356.5" y1="808" x2="356.5" y2="838" stroke="#141414" stroke-width="0.9"/>
<line x1="361.5" y1="808" x2="361.5" y2="838" stroke="#141414" stroke-width="0.9"/>
<line x1="365.5" y1="808" x2="365.5" y2="838" stroke="#141414" stroke-width="0.9"/>
<line x1="380.5" y1="808" x2="380.5" y2="838" stroke="#141414" stroke-width="0.9"/>
<line x1="385.5" y1="808" x2="385.5" y2="838" stroke="#141414" stroke-width="0.9"/>
<line x1="390.5" y1="808" x2="390.5" y2="838" stroke="#141414" stroke-width="0.9"/>
<line x1="359.5" y1="808" x2="359.5" y2="862" stroke="#141414" stroke-width="0.9"/>
<line x1="386.5" y1="808" x2="386.5" y2="862" stroke="#141414" stroke-width="0.9"/>
<line x1="309.5" y1="833.5" x2="367.4" y2="833.5" stroke="#141414" stroke-width="1"/>
<line x1="379.1" y1="833.5" x2="431.2" y2="833.5" stroke="#141414" stroke-width="1"/>
<line x1="351.4" y1="836.5" x2="356.6" y2="831.3" stroke="#141414" stroke-width="0.9"/>
<line x1="363.1" y1="836.5" x2="368.3" y2="831.3" stroke="#141414" stroke-width="0.9"/>
<line x1="378.2" y1="836.5" x2="383.4" y2="831.3" stroke="#141414" stroke-width="0.9"/>
<line x1="388.3" y1="836.5" x2="393.5" y2="831.3" stroke="#141414" stroke-width="0.9"/>
<text x="313.38" y="829.7" font-size="12.8" fill="#141414" textLength="26.94" lengthAdjust="spacingAndGlyphs">G1/2</text>
<text x="400.37" y="829.7" font-size="12.8" fill="#141414" textLength="27.26" lengthAdjust="spacingAndGlyphs">G1/2</text>
<line x1="343" y1="859.5" x2="386.7" y2="859.5" stroke="#141414" stroke-width="1"/>
<line x1="339.7" y1="862.3" x2="346.3" y2="855.7" stroke="#141414" stroke-width="1"/>
<line x1="356" y1="862.3" x2="362.6" y2="855.7" stroke="#141414" stroke-width="1"/>
<line x1="383.4" y1="862.3" x2="390" y2="855.7" stroke="#141414" stroke-width="1"/>
<text x="345.14" y="853.7" font-size="12.8" fill="#141414" textLength="13.42" lengthAdjust="spacingAndGlyphs">30</text>
<text x="366" y="853.7" font-size="12.8" fill="#141414" textLength="13.98" lengthAdjust="spacingAndGlyphs">50</text>
<text x="402.6" y="858.2" font-size="13.2" fill="#4a4a4a" textLength="184.4" lengthAdjust="spacingAndGlyphs">Widok grzejnika typ <tspan fill="#3d6fa0">11V</tspan> od tyłu</text>
</svg>
</body></html>
